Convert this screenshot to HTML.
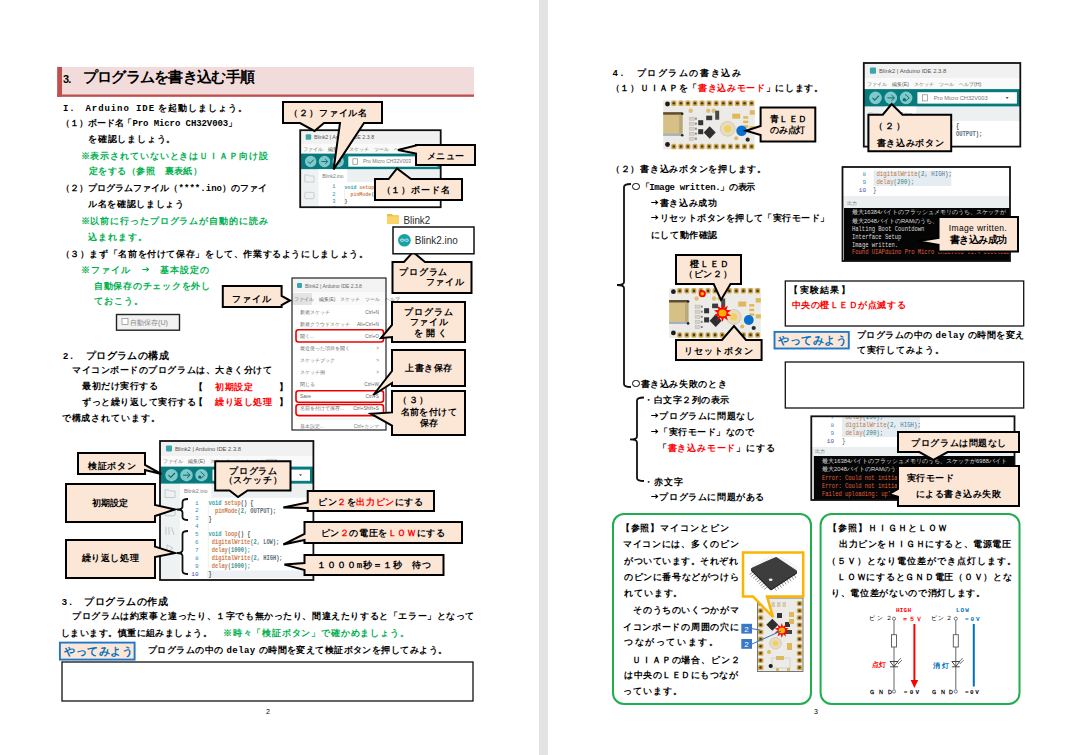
<!DOCTYPE html>
<html><head><meta charset="utf-8"><style>
html,body{margin:0;padding:0;background:#fff;}
body{width:1086px;height:755px;overflow:hidden;position:relative;font-family:"Liberation Sans",sans-serif;}
.gap{position:absolute;left:539px;top:0;width:9px;height:755px;background:#e3e3e3;}
svg.main{position:absolute;left:0;top:0;}
.t{position:absolute;white-space:nowrap;color:#111;}
.ci{display:inline-block;width:0.8em;height:0.8em;border:1.2px solid currentColor;border-radius:50%;box-sizing:border-box;vertical-align:-0.06em;margin:0 0.1em 0 0.05em;}
.ar{display:inline-block;position:static;width:0.8em;height:0.55em;vertical-align:0.1em;margin:0 0.1em;}
</style></head><body>
<div class="gap"></div>
<svg class="main" width="1086" height="755" viewBox="0 0 1086 755" font-family="Liberation Sans">
<rect x="57.2" y="66.9" width="416.8" height="29.9" fill="#f2dcdb" stroke="none" stroke-width="1" rx="0" />
<rect x="57.2" y="66.9" width="4.8" height="29.9" fill="#c0504d" stroke="none" stroke-width="1" rx="0" />
<rect x="57.2" y="94.5" width="416.8" height="2.3" fill="#c0504d" stroke="none" stroke-width="1" rx="0" />
<rect x="62.0" y="662.0" width="411.0" height="39.0" fill="#fff" stroke="#111" stroke-width="1.3" rx="0" />
<rect x="785.3" y="281.0" width="238.4" height="45.0" fill="#fff" stroke="#111" stroke-width="1.3" rx="0" />
<rect x="785.3" y="362.0" width="238.4" height="46.0" fill="#fff" stroke="#111" stroke-width="1.3" rx="0" />
<rect x="59.9" y="642.6" width="74.7" height="17.0" fill="#fce6d6" stroke="#1f77c9" stroke-width="1.9" rx="0" />
<rect x="774.5" y="331.9" width="74.3" height="16.6" fill="#fce6d6" stroke="#1f77c9" stroke-width="1.9" rx="0" />
<rect x="613.0" y="514.0" width="198.0" height="190.0" fill="none" stroke="#1fae4f" stroke-width="2" rx="11" />
<rect x="820.6" y="514.0" width="198.9" height="190.0" fill="none" stroke="#1fae4f" stroke-width="2" rx="11" />
<rect x="116.5" y="314.5" width="63.0" height="15.7" fill="#f2f2f2" stroke="#222" stroke-width="1.4" rx="0" />
<rect x="122.0" y="318.5" width="6.0" height="6.0" fill="#fff" stroke="#888" stroke-width="0.7" rx="0" />
<text x="130.0" y="325.0" font-size="7.2" fill="#888" font-family="Liberation Sans" text-anchor="start" font-weight="normal" >自動保存(U)</text>
<clipPath id="c300"><rect x="300.2" y="130.2" width="140.5" height="77.0"/></clipPath><g clip-path="url(#c300)">
<rect x="300.2" y="130.2" width="140.5" height="77.0" fill="#fff" stroke="none" stroke-width="1" rx="0" />
<rect x="300.2" y="130.2" width="140.5" height="13.7" fill="#f1f1f1" stroke="none" stroke-width="1" rx="0" />
<rect x="305.7" y="134.3" width="5.5" height="5.5" fill="#3aa6aa" stroke="none" stroke-width="1" rx="1" />
<text x="313.9" y="139.2" font-size="5.3122555410691" fill="#555" font-family="Liberation Sans" text-anchor="start" font-weight="normal" >Blink2 | Arduino IDE 2.3.8</text>
<rect x="300.2" y="143.9" width="140.5" height="9.7" fill="#fafafa" stroke="none" stroke-width="1" rx="0" />
<text x="302.9" y="150.6" font-size="4.762711864406779" fill="#666" font-family="Liberation Sans" text-anchor="start" font-weight="normal" >ファイル　編集(E)　スケッチ　ツール　ヘルプ(H)</text>
<rect x="300.2" y="153.6" width="140.5" height="15.8" fill="#077a7e" stroke="none" stroke-width="1" rx="0" />
<circle cx="310.7" cy="161.5" r="5.7" fill="#80c8c9"/>
<circle cx="324.5" cy="161.5" r="5.7" fill="#80c8c9"/>
<circle cx="338.2" cy="161.5" r="5.7" fill="#80c8c9"/>
<path d="M308.0,161.5 l2.0,2.1 l3.8,-4.1" stroke="#0a6a6e" stroke-width="1.0" fill="none"/>
<path d="M321.3,161.5 h6.4 m-2.6,-2.6 l2.6,2.6 l-2.6,2.6" stroke="#0a6a6e" stroke-width="0.9" fill="none"/>
<path d="M337.3,158.3 l3.7,3.2 l-3.7,3.2" stroke="#0a6a6e" stroke-width="0.8" fill="none"/><circle cx="336.6" cy="163.2" r="1.5" fill="#0a6a6e"/>
<rect x="348.3" y="156.4" width="89.3" height="10.3" fill="#fff" stroke="none" stroke-width="1" rx="0" />
<rect x="352.9" y="158.8" width="4.6" height="5.5" fill="none" stroke="#888" stroke-width="0.7" rx="0" />
<text x="362.9" y="163.4" font-size="5.129074315514993" fill="#777" font-family="Liberation Sans" text-anchor="start" font-weight="normal" >Pro Micro CH32V003</text>
<path d="M427.5,160.6 l2.7,0 l-1.4,1.8 z" fill="#555"/>
<rect x="300.2" y="169.4" width="18.3" height="37.8" fill="#eef2f2" stroke="none" stroke-width="1" rx="0" />
<rect x="318.5" y="169.4" width="122.2" height="12.8" fill="#ecf0f0" stroke="none" stroke-width="1" rx="0" />
<rect x="318.5" y="169.4" width="28.8" height="12.8" fill="#fff" stroke="none" stroke-width="1" rx="0" />
<text x="322.2" y="177.6" font-size="4.945893089960887" fill="#777" font-family="Liberation Sans" text-anchor="start" font-weight="normal" >Blink2.ino</text>
<path d="M304.8,174.9 h3.2 l1.1,1.1 h4.9 v6.0 h-9.2 z" fill="none" stroke="#b8c0c0" stroke-width="0.7"/>
<rect x="304.8" y="192.3" width="9.2" height="6.4" fill="none" stroke="#b8c0c0" stroke-width="0.7327249022164276" rx="1" />
<path d="M305.7,208.8 v7.3 M308.4,208.8 v7.3 M310.7,209.2 l2.3,6.9" stroke="#b8c0c0" stroke-width="0.8"/>
<path d="M306.6,225.3 l5.5,3.2 l-5.5,3.2 z" fill="none" stroke="#b8c0c0" stroke-width="0.7"/>
<text x="335.5" y="188.4" font-size="5.495436766623207" fill="#3a8fb0" font-family="Liberation Mono" text-anchor="end" font-weight="normal" >1</text>
<text x="344.6" y="188.6" font-size="5.9" font-family="Liberation Mono" font-weight="bold" textLength="41.3" lengthAdjust="spacingAndGlyphs"><tspan fill="#2fa3a6">void&#160;</tspan><tspan fill="#d0804e">setup</tspan><tspan fill="#555">()&#160;{</tspan></text>
<text x="335.5" y="195.6" font-size="5.495436766623207" fill="#3a8fb0" font-family="Liberation Mono" text-anchor="end" font-weight="normal" >2</text>
<text x="344.6" y="195.9" font-size="5.9" font-family="Liberation Mono" font-weight="bold" textLength="61.9" lengthAdjust="spacingAndGlyphs"><tspan fill="#d0804e">&#160;&#160;pinMode</tspan><tspan fill="#3f9090">(2,&#160;</tspan><tspan fill="#5b6d7a">OUTPUT</tspan><tspan fill="#555">);</tspan></text>
<text x="335.5" y="202.8" font-size="5.495436766623207" fill="#3a8fb0" font-family="Liberation Mono" text-anchor="end" font-weight="normal" >3</text>
<text x="344.6" y="203.1" font-size="5.9" font-family="Liberation Mono" font-weight="bold" textLength="2.9" lengthAdjust="spacingAndGlyphs"><tspan fill="#555">}</tspan></text>
<text x="335.5" y="210.1" font-size="5.495436766623207" fill="#3a8fb0" font-family="Liberation Mono" text-anchor="end" font-weight="normal" >4</text>
<line x1="344.4" y1="188.6" x2="344.4" y2="247.0" stroke="#ddd" stroke-width="0.5"/>
</g>
<rect x="300.2" y="130.2" width="140.5" height="77.0" fill="none" stroke="#111" stroke-width="1.8" rx="0" />
<rect x="292.0" y="278.0" width="94.0" height="152.0" fill="#fff" stroke="none" stroke-width="1" rx="0" />
<rect x="292.0" y="278.0" width="94.0" height="14.0" fill="#f3f3f3" stroke="none" stroke-width="1" rx="0" />
<rect x="297.0" y="283.0" width="5.0" height="5.0" fill="#3aa6aa" stroke="none" stroke-width="1" rx="1" />
<text x="305.0" y="287.6" font-size="5" fill="#666" font-family="Liberation Sans" text-anchor="start" font-weight="normal" >Blink2 | Arduino IDE 2.3.8</text>
<rect x="292.0" y="292.0" width="94.0" height="13.0" fill="#fafafa" stroke="none" stroke-width="1" rx="0" />
<rect x="292.0" y="293.0" width="20.0" height="12.0" fill="#e3e3e3" stroke="none" stroke-width="1" rx="0" />
<text x="294.0" y="301.0" font-size="4.8" fill="#666" font-family="Liberation Sans" text-anchor="start" font-weight="normal" >ファイル　編集(E)　スケッチ　ツール　ヘルプ</text>
<text x="300.0" y="314.0" font-size="4.8" fill="#666" font-family="Liberation Sans" text-anchor="start" font-weight="normal" >新規スケッチ</text>
<text x="379.0" y="314.0" font-size="4.8" fill="#666" font-family="Liberation Sans" text-anchor="end" font-weight="normal" >Ctrl+N</text>
<text x="300.0" y="326.0" font-size="4.8" fill="#666" font-family="Liberation Sans" text-anchor="start" font-weight="normal" >新規クラウドスケッチ</text>
<text x="379.0" y="326.0" font-size="4.8" fill="#666" font-family="Liberation Sans" text-anchor="end" font-weight="normal" >Alt+Ctrl+N</text>
<text x="300.0" y="338.0" font-size="4.8" fill="#666" font-family="Liberation Sans" text-anchor="start" font-weight="normal" >開く...</text>
<text x="379.0" y="338.0" font-size="4.8" fill="#666" font-family="Liberation Sans" text-anchor="end" font-weight="normal" >Ctrl+O</text>
<text x="300.0" y="350.0" font-size="4.8" fill="#666" font-family="Liberation Sans" text-anchor="start" font-weight="normal" >最近使った項目を開く</text>
<text x="379.0" y="350.0" font-size="4.8" fill="#666" font-family="Liberation Sans" text-anchor="end" font-weight="normal" >></text>
<text x="300.0" y="362.0" font-size="4.8" fill="#666" font-family="Liberation Sans" text-anchor="start" font-weight="normal" >スケッチブック</text>
<text x="379.0" y="362.0" font-size="4.8" fill="#666" font-family="Liberation Sans" text-anchor="end" font-weight="normal" >></text>
<text x="300.0" y="374.0" font-size="4.8" fill="#666" font-family="Liberation Sans" text-anchor="start" font-weight="normal" >スケッチ例</text>
<text x="379.0" y="374.0" font-size="4.8" fill="#666" font-family="Liberation Sans" text-anchor="end" font-weight="normal" >></text>
<text x="300.0" y="386.0" font-size="4.8" fill="#666" font-family="Liberation Sans" text-anchor="start" font-weight="normal" >閉じる</text>
<text x="379.0" y="386.0" font-size="4.8" fill="#666" font-family="Liberation Sans" text-anchor="end" font-weight="normal" >Ctrl+W</text>
<text x="300.0" y="398.0" font-size="4.8" fill="#666" font-family="Liberation Sans" text-anchor="start" font-weight="normal" >Save</text>
<text x="379.0" y="398.0" font-size="4.8" fill="#666" font-family="Liberation Sans" text-anchor="end" font-weight="normal" >Ctrl+S</text>
<text x="300.0" y="410.0" font-size="4.8" fill="#666" font-family="Liberation Sans" text-anchor="start" font-weight="normal" >名前を付けて保存...</text>
<text x="379.0" y="410.0" font-size="4.8" fill="#666" font-family="Liberation Sans" text-anchor="end" font-weight="normal" >Ctrl+Shift+S</text>
<line x1="296.0" y1="419.0" x2="382.0" y2="419.0" stroke="#ddd" stroke-width="0.6"/>
<text x="300.0" y="428.0" font-size="4.8" fill="#777" font-family="Liberation Sans" text-anchor="start" font-weight="normal" >基本設定...</text>
<text x="379.0" y="428.0" font-size="4.8" fill="#777" font-family="Liberation Sans" text-anchor="end" font-weight="normal" >Ctrl+カンマ</text>
<rect x="292.0" y="278.0" width="94.0" height="152.0" fill="none" stroke="#222" stroke-width="1.2" rx="0" />
<rect x="296.0" y="329.7" width="87.5" height="12.3" fill="none" stroke="#e00" stroke-width="1.6" rx="2.5" />
<rect x="296.0" y="390.7" width="87.5" height="11.6" fill="none" stroke="#e00" stroke-width="1.6" rx="2.5" />
<rect x="296.0" y="404.5" width="87.5" height="11.1" fill="none" stroke="#e00" stroke-width="1.6" rx="2.5" />
<clipPath id="c160"><rect x="160.0" y="441.0" width="153.4" height="139.0"/></clipPath><g clip-path="url(#c160)">
<rect x="160.0" y="441.0" width="153.4" height="139.0" fill="#fff" stroke="none" stroke-width="1" rx="0" />
<rect x="160.0" y="441.0" width="153.4" height="15.0" fill="#f1f1f1" stroke="none" stroke-width="1" rx="0" />
<rect x="166.0" y="445.5" width="6.0" height="6.0" fill="#3aa6aa" stroke="none" stroke-width="1" rx="1" />
<text x="175.0" y="450.8" font-size="5.799999999999999" fill="#555" font-family="Liberation Sans" text-anchor="start" font-weight="normal" >Blink2 | Arduino IDE 2.3.8</text>
<rect x="160.0" y="456.0" width="153.4" height="10.6" fill="#fafafa" stroke="none" stroke-width="1" rx="0" />
<text x="163.0" y="463.3" font-size="5.199999999999999" fill="#666" font-family="Liberation Sans" text-anchor="start" font-weight="normal" >ファイル　編集(E)　スケッチ　ツール　ヘルプ(H)</text>
<rect x="160.0" y="466.6" width="153.4" height="17.2" fill="#077a7e" stroke="none" stroke-width="1" rx="0" />
<circle cx="171.5" cy="475.2" r="6.2" fill="#80c8c9"/>
<circle cx="186.5" cy="475.2" r="6.2" fill="#80c8c9"/>
<circle cx="201.5" cy="475.2" r="6.2" fill="#80c8c9"/>
<path d="M168.5,475.2 l2.2,2.3 l4.2,-4.5" stroke="#0a6a6e" stroke-width="1.1" fill="none"/>
<path d="M183.0,475.2 h7.0 m-2.8,-2.8 l2.8,2.8 l-2.8,2.8" stroke="#0a6a6e" stroke-width="1.0" fill="none"/>
<path d="M200.5,471.7 l4.0,3.5 l-4.0,3.5" stroke="#0a6a6e" stroke-width="0.9" fill="none"/><circle cx="199.7" cy="477.0" r="1.6" fill="#0a6a6e"/>
<rect x="212.5" y="469.6" width="97.5" height="11.2" fill="#fff" stroke="none" stroke-width="1" rx="0" />
<rect x="217.5" y="472.2" width="5.0" height="6.0" fill="none" stroke="#888" stroke-width="0.7" rx="0" />
<text x="228.5" y="477.2" font-size="5.599999999999999" fill="#777" font-family="Liberation Sans" text-anchor="start" font-weight="normal" >Pro Micro CH32V003</text>
<path d="M299.0,474.2 l3.0,0 l-1.5,2.0 z" fill="#555"/>
<rect x="160.0" y="483.8" width="20.0" height="96.2" fill="#eef2f2" stroke="none" stroke-width="1" rx="0" />
<rect x="180.0" y="483.8" width="133.4" height="14.0" fill="#ecf0f0" stroke="none" stroke-width="1" rx="0" />
<rect x="180.0" y="483.8" width="31.4" height="14.0" fill="#fff" stroke="none" stroke-width="1" rx="0" />
<text x="184.0" y="492.8" font-size="5.3999999999999995" fill="#777" font-family="Liberation Sans" text-anchor="start" font-weight="normal" >Blink2.ino</text>
<path d="M165.0,489.8 h3.5 l1.2,1.2 h5.3 v6.5 h-10.0 z" fill="none" stroke="#b8c0c0" stroke-width="0.8"/>
<rect x="165.0" y="508.8" width="10.0" height="7.0" fill="none" stroke="#b8c0c0" stroke-width="0.7999999999999998" rx="1" />
<path d="M166.0,526.8 v8.0 M169.0,526.8 v8.0 M171.5,527.3 l2.5,7.5" stroke="#b8c0c0" stroke-width="0.9"/>
<path d="M167.0,544.8 l6.0,3.5 l-6.0,3.5 z" fill="none" stroke="#b8c0c0" stroke-width="0.8"/>
<text x="198.5" y="504.5" font-size="5.999999999999998" fill="#3a8fb0" font-family="Liberation Mono" text-anchor="end" font-weight="normal" >1</text>
<text x="208.5" y="504.8" font-size="6.4" font-family="Liberation Mono" font-weight="bold" textLength="45.1" lengthAdjust="spacingAndGlyphs"><tspan fill="#2fa3a6">void&#160;</tspan><tspan fill="#d0804e">setup</tspan><tspan fill="#555">()&#160;{</tspan></text>
<text x="198.5" y="512.4" font-size="5.999999999999998" fill="#3a8fb0" font-family="Liberation Mono" text-anchor="end" font-weight="normal" >2</text>
<text x="208.5" y="512.7" font-size="6.4" font-family="Liberation Mono" font-weight="bold" textLength="67.6" lengthAdjust="spacingAndGlyphs"><tspan fill="#d0804e">&#160;&#160;pinMode</tspan><tspan fill="#3f9090">(2,&#160;</tspan><tspan fill="#5b6d7a">OUTPUT</tspan><tspan fill="#555">);</tspan></text>
<text x="198.5" y="520.3" font-size="5.999999999999998" fill="#3a8fb0" font-family="Liberation Mono" text-anchor="end" font-weight="normal" >3</text>
<text x="208.5" y="520.6" font-size="6.4" font-family="Liberation Mono" font-weight="bold" textLength="3.2" lengthAdjust="spacingAndGlyphs"><tspan fill="#555">}</tspan></text>
<text x="198.5" y="528.2" font-size="5.999999999999998" fill="#3a8fb0" font-family="Liberation Mono" text-anchor="end" font-weight="normal" >4</text>
<text x="198.5" y="536.1" font-size="5.999999999999998" fill="#3a8fb0" font-family="Liberation Mono" text-anchor="end" font-weight="normal" >5</text>
<text x="208.5" y="536.4" font-size="6.4" font-family="Liberation Mono" font-weight="bold" textLength="41.9" lengthAdjust="spacingAndGlyphs"><tspan fill="#2fa3a6">void&#160;</tspan><tspan fill="#d0804e">loop</tspan><tspan fill="#555">()&#160;{</tspan></text>
<text x="198.5" y="544.0" font-size="5.999999999999998" fill="#3a8fb0" font-family="Liberation Mono" text-anchor="end" font-weight="normal" >6</text>
<text x="208.5" y="544.3" font-size="6.4" font-family="Liberation Mono" font-weight="bold" textLength="70.8" lengthAdjust="spacingAndGlyphs"><tspan fill="#d0804e">&#160;digitalWrite</tspan><tspan fill="#3f9090">(2,&#160;</tspan><tspan fill="#5b6d7a">LOW</tspan><tspan fill="#555">);</tspan></text>
<text x="198.5" y="551.9" font-size="5.999999999999998" fill="#3a8fb0" font-family="Liberation Mono" text-anchor="end" font-weight="normal" >7</text>
<text x="208.5" y="552.2" font-size="6.4" font-family="Liberation Mono" font-weight="bold" textLength="41.9" lengthAdjust="spacingAndGlyphs"><tspan fill="#d0804e">&#160;delay</tspan><tspan fill="#3f9090">(1000);</tspan></text>
<text x="198.5" y="559.8" font-size="5.999999999999998" fill="#3a8fb0" font-family="Liberation Mono" text-anchor="end" font-weight="normal" >8</text>
<text x="208.5" y="560.1" font-size="6.4" font-family="Liberation Mono" font-weight="bold" textLength="74.1" lengthAdjust="spacingAndGlyphs"><tspan fill="#d0804e">&#160;digitalWrite</tspan><tspan fill="#3f9090">(2,&#160;</tspan><tspan fill="#5b6d7a">HIGH</tspan><tspan fill="#555">);</tspan></text>
<text x="198.5" y="567.7" font-size="5.999999999999998" fill="#3a8fb0" font-family="Liberation Mono" text-anchor="end" font-weight="normal" >9</text>
<text x="208.5" y="568.0" font-size="6.4" font-family="Liberation Mono" font-weight="bold" textLength="41.9" lengthAdjust="spacingAndGlyphs"><tspan fill="#d0804e">&#160;delay</tspan><tspan fill="#3f9090">(1000);</tspan></text>
<rect x="207.0" y="570.4" width="106.4" height="7.7" fill="#eef1f3" stroke="none" stroke-width="1" rx="0" />
<text x="198.5" y="575.6" font-size="5.999999999999998" fill="#3a4ea0" font-family="Liberation Mono" text-anchor="end" font-weight="normal" >10</text>
<text x="208.5" y="575.9" font-size="6.4" font-family="Liberation Mono" font-weight="bold" textLength="3.2" lengthAdjust="spacingAndGlyphs"><tspan fill="#555">}</tspan></text>
<line x1="208.3" y1="504.8" x2="208.3" y2="568.6" stroke="#ddd" stroke-width="0.5"/>
</g>
<rect x="160.0" y="441.0" width="153.4" height="139.0" fill="none" stroke="#111" stroke-width="1.8" rx="0" />
<clipPath id="c863"><rect x="863.8" y="63.0" width="156.5" height="83.6"/></clipPath><g clip-path="url(#c863)">
<rect x="863.8" y="63.0" width="156.5" height="83.6" fill="#fff" stroke="none" stroke-width="1" rx="0" />
<rect x="863.8" y="63.0" width="156.5" height="15.3" fill="#f1f1f1" stroke="none" stroke-width="1" rx="0" />
<rect x="869.9" y="67.6" width="6.1" height="6.1" fill="#3aa6aa" stroke="none" stroke-width="1" rx="1" />
<text x="879.1" y="73.0" font-size="5.917209908735333" fill="#555" font-family="Liberation Sans" text-anchor="start" font-weight="normal" >Blink2 | Arduino IDE 2.3.8</text>
<rect x="863.8" y="78.3" width="156.5" height="10.8" fill="#fafafa" stroke="none" stroke-width="1" rx="0" />
<text x="866.9" y="85.8" font-size="5.305084745762712" fill="#666" font-family="Liberation Sans" text-anchor="start" font-weight="normal" >ファイル　編集(E)　スケッチ　ツール　ヘルプ(H)</text>
<rect x="863.8" y="89.1" width="156.5" height="17.5" fill="#077a7e" stroke="none" stroke-width="1" rx="0" />
<circle cx="875.5" cy="97.9" r="6.3" fill="#80c8c9"/>
<circle cx="890.8" cy="97.9" r="6.3" fill="#80c8c9"/>
<circle cx="906.1" cy="97.9" r="6.3" fill="#80c8c9"/>
<path d="M872.5,97.9 l2.2,2.3 l4.3,-4.6" stroke="#0a6a6e" stroke-width="1.1" fill="none"/>
<path d="M887.3,97.9 h7.1 m-2.9,-2.9 l2.9,2.9 l-2.9,2.9" stroke="#0a6a6e" stroke-width="1.0" fill="none"/>
<path d="M905.1,94.3 l4.1,3.6 l-4.1,3.6" stroke="#0a6a6e" stroke-width="0.9" fill="none"/><circle cx="904.3" cy="99.7" r="1.6" fill="#0a6a6e"/>
<rect x="917.4" y="92.2" width="99.5" height="11.4" fill="#fff" stroke="none" stroke-width="1" rx="0" />
<rect x="922.5" y="94.8" width="5.1" height="6.1" fill="none" stroke="#888" stroke-width="0.7" rx="0" />
<text x="933.7" y="99.9" font-size="5.713168187744459" fill="#777" font-family="Liberation Sans" text-anchor="start" font-weight="normal" >Pro Micro CH32V003</text>
<path d="M1005.6,96.9 l3.1,0 l-1.5,2.0 z" fill="#555"/>
<rect x="863.8" y="106.7" width="20.4" height="39.9" fill="#eef2f2" stroke="none" stroke-width="1" rx="0" />
<rect x="884.2" y="106.7" width="136.1" height="14.3" fill="#ecf0f0" stroke="none" stroke-width="1" rx="0" />
<rect x="884.2" y="106.7" width="32.0" height="14.3" fill="#fff" stroke="none" stroke-width="1" rx="0" />
<text x="888.3" y="115.8" font-size="5.509126466753586" fill="#777" font-family="Liberation Sans" text-anchor="start" font-weight="normal" >Blink2.ino</text>
<path d="M868.9,112.8 h3.6 l1.2,1.2 h5.4 v6.6 h-10.2 z" fill="none" stroke="#b8c0c0" stroke-width="0.8"/>
<rect x="868.9" y="132.2" width="10.2" height="7.1" fill="none" stroke="#b8c0c0" stroke-width="0.8161668839634942" rx="1" />
<path d="M869.9,150.5 v8.2 M873.0,150.5 v8.2 M875.5,151.0 l2.6,7.7" stroke="#b8c0c0" stroke-width="0.9"/>
<path d="M870.9,168.9 l6.1,3.6 l-6.1,3.6 z" fill="none" stroke="#b8c0c0" stroke-width="0.8"/>
<text x="903.1" y="127.8" font-size="6.121251629726206" fill="#3a8fb0" font-family="Liberation Mono" text-anchor="end" font-weight="normal" >1</text>
<text x="913.3" y="128.1" font-size="6.5" font-family="Liberation Mono" font-weight="bold" textLength="46.0" lengthAdjust="spacingAndGlyphs"><tspan fill="#2fa3a6">void&#160;</tspan><tspan fill="#d0804e">setup</tspan><tspan fill="#555">()&#160;{</tspan></text>
<text x="903.1" y="135.8" font-size="6.121251629726206" fill="#3a8fb0" font-family="Liberation Mono" text-anchor="end" font-weight="normal" >2</text>
<text x="913.3" y="136.1" font-size="6.5" font-family="Liberation Mono" font-weight="bold" textLength="69.0" lengthAdjust="spacingAndGlyphs"><tspan fill="#d0804e">&#160;&#160;pinMode</tspan><tspan fill="#3f9090">(2,&#160;</tspan><tspan fill="#5b6d7a">OUTPUT</tspan><tspan fill="#555">);</tspan></text>
<text x="903.1" y="143.9" font-size="6.121251629726206" fill="#3a8fb0" font-family="Liberation Mono" text-anchor="end" font-weight="normal" >3</text>
<text x="913.3" y="144.2" font-size="6.5" font-family="Liberation Mono" font-weight="bold" textLength="3.3" lengthAdjust="spacingAndGlyphs"><tspan fill="#555">}</tspan></text>
<line x1="913.1" y1="128.1" x2="913.1" y2="193.1" stroke="#ddd" stroke-width="0.5"/>
</g>
<rect x="863.8" y="63.0" width="156.5" height="83.6" fill="none" stroke="#111" stroke-width="1.8" rx="0" />
<clipPath id="o842"><rect x="842.5" y="167.0" width="167.5" height="94.0"/></clipPath><g clip-path="url(#o842)">
<rect x="842.5" y="167.0" width="167.5" height="94.0" fill="#fff" stroke="none" stroke-width="1" rx="0" />
<rect x="873.6" y="170.6" width="77.8" height="15.4" fill="#e6edf2" stroke="none" stroke-width="1" rx="0" />
<text x="866.0" y="175.7" font-size="6" fill="#3a8fb0" font-family="Liberation Mono" text-anchor="end" font-weight="normal" >8</text>
<text x="873.0" y="175.9" font-size="6.6" font-family="Liberation Mono" textLength="78.9" lengthAdjust="spacingAndGlyphs"><tspan fill="#c5763c">&#160;digitalWrite</tspan><tspan fill="#357a7c">(2,&#160;</tspan><tspan fill="#4e7e9a">HIGH</tspan><tspan fill="#555">);</tspan></text>
<text x="866.0" y="184.0" font-size="6" fill="#3a8fb0" font-family="Liberation Mono" text-anchor="end" font-weight="normal" >9</text>
<text x="873.0" y="184.2" font-size="6.6" font-family="Liberation Mono" textLength="41.2" lengthAdjust="spacingAndGlyphs"><tspan fill="#c5763c">&#160;delay</tspan><tspan fill="#357a7c">(200);</tspan></text>
<text x="866.0" y="192.0" font-size="6" fill="#3a4ea0" font-family="Liberation Mono" text-anchor="end" font-weight="normal" >10</text>
<text x="873.0" y="192.2" font-size="6.6" font-family="Liberation Mono" textLength="3.4" lengthAdjust="spacingAndGlyphs"><tspan fill="#555">}</tspan></text>
<rect x="842.5" y="196.0" width="167.5" height="12.0" fill="#eceff0" stroke="none" stroke-width="1" rx="0" />
<text x="846.5" y="204.5" font-size="5" fill="#777" font-family="Liberation Sans" text-anchor="start" font-weight="normal" >出力</text>
<rect x="844.0" y="208.0" width="166.0" height="53.0" fill="#050505" stroke="none" stroke-width="1" rx="0" />
<text x="852.0" y="214.1" font-size="5.8" fill="#ddd" font-family="Liberation Sans" text-anchor="start" font-weight="normal" >最大16384バイトのフラッシュメモリのうち、スケッチが</text>
<text x="852.0" y="222.5" font-size="5.8" fill="#ddd" font-family="Liberation Sans" text-anchor="start" font-weight="normal" >最大2048バイトのRAMのうち、グローバル変数が</text>
<text x="852.0" y="230.6" font-size="6.4" fill="#ddd" font-family="Liberation Mono" font-weight="normal" textLength="72.4" lengthAdjust="spacingAndGlyphs">Halting Boot Countdown</text>
<text x="852.0" y="238.5" font-size="6.4" fill="#ddd" font-family="Liberation Mono" font-weight="normal" textLength="49.4" lengthAdjust="spacingAndGlyphs">Interface Setup</text>
<text x="852.0" y="246.6" font-size="6.4" fill="#ddd" font-family="Liberation Mono" font-weight="normal" textLength="46.1" lengthAdjust="spacingAndGlyphs">Image written.</text>
<text x="852.0" y="254.4" font-size="6.4" fill="#e0603c" font-family="Liberation Mono" font-weight="normal" textLength="164.5" lengthAdjust="spacingAndGlyphs">Found UIAPduino Pro Micro CH32V003 v1.4 bootloader</text>
</g>
<rect x="842.5" y="167.0" width="167.5" height="94.0" fill="none" stroke="#111" stroke-width="1.8" rx="0" />
<clipPath id="o811"><rect x="811.3" y="416.3" width="203.2" height="83.7"/></clipPath><g clip-path="url(#o811)">
<rect x="811.3" y="416.3" width="203.2" height="83.7" fill="#fff" stroke="none" stroke-width="1" rx="0" />
<rect x="842.0" y="414.0" width="78.0" height="23.0" fill="#e6edf2" stroke="none" stroke-width="1" rx="0" />
<text x="834.0" y="419.0" font-size="6" fill="#3a8fb0" font-family="Liberation Mono" text-anchor="end" font-weight="normal" >7</text>
<text x="842.0" y="419.2" font-size="6.6" font-family="Liberation Mono" textLength="41.2" lengthAdjust="spacingAndGlyphs"><tspan fill="#c5763c">&#160;delay</tspan><tspan fill="#357a7c">(200);</tspan></text>
<text x="834.0" y="427.0" font-size="6" fill="#3a8fb0" font-family="Liberation Mono" text-anchor="end" font-weight="normal" >8</text>
<text x="842.0" y="427.2" font-size="6.6" font-family="Liberation Mono" textLength="78.9" lengthAdjust="spacingAndGlyphs"><tspan fill="#c5763c">&#160;digitalWrite</tspan><tspan fill="#357a7c">(2,&#160;</tspan><tspan fill="#4e7e9a">HIGH</tspan><tspan fill="#555">);</tspan></text>
<text x="834.0" y="435.0" font-size="6" fill="#3a8fb0" font-family="Liberation Mono" text-anchor="end" font-weight="normal" >9</text>
<text x="842.0" y="435.2" font-size="6.6" font-family="Liberation Mono" textLength="41.2" lengthAdjust="spacingAndGlyphs"><tspan fill="#c5763c">&#160;delay</tspan><tspan fill="#357a7c">(200);</tspan></text>
<text x="834.0" y="443.0" font-size="6" fill="#3a4ea0" font-family="Liberation Mono" text-anchor="end" font-weight="normal" >10</text>
<text x="842.0" y="443.2" font-size="6.6" font-family="Liberation Mono" textLength="3.4" lengthAdjust="spacingAndGlyphs"><tspan fill="#555">}</tspan></text>
<rect x="811.3" y="447.0" width="203.2" height="9.0" fill="#eceff0" stroke="none" stroke-width="1" rx="0" />
<text x="815.3" y="452.5" font-size="5" fill="#777" font-family="Liberation Sans" text-anchor="start" font-weight="normal" >出力</text>
<rect x="813.8" y="456.0" width="200.7" height="44.0" fill="#050505" stroke="none" stroke-width="1" rx="0" />
<text x="822.0" y="462.7" font-size="5.8" fill="#ddd" font-family="Liberation Sans" text-anchor="start" font-weight="normal" >最大16384バイトのフラッシュメモリのうち、スケッチが6988バイト</text>
<text x="822.0" y="470.8" font-size="5.8" fill="#ddd" font-family="Liberation Sans" text-anchor="start" font-weight="normal" >最大2048バイトのRAMのうち、グローバル変数が</text>
<text x="822.0" y="479.8" font-size="6.4" fill="#e0603c" font-family="Liberation Mono" font-weight="normal" textLength="88.8" lengthAdjust="spacingAndGlyphs">Error: Could not initialize</text>
<text x="822.0" y="487.7" font-size="6.4" fill="#e0603c" font-family="Liberation Mono" font-weight="normal" textLength="88.8" lengthAdjust="spacingAndGlyphs">Error: Could not initialize</text>
<text x="822.0" y="495.7" font-size="6.4" fill="#e0603c" font-family="Liberation Mono" font-weight="normal" textLength="108.6" lengthAdjust="spacingAndGlyphs">Failed uploading: uploading error</text>
</g>
<rect x="811.3" y="416.3" width="203.2" height="83.7" fill="none" stroke="#111" stroke-width="1.8" rx="0" />
<rect x="663.2" y="100.2" width="91.6" height="49.3" fill="#ecebe7" stroke="none" stroke-width="1" rx="0" />
<rect x="671.3" y="100.5" width="5.0" height="5.5" rx="1.6" fill="#cfa548"/>
<circle cx="673.8" cy="103.2" r="1.3" fill="#4a3b1c"/>
<rect x="671.3" y="143.8" width="5.0" height="5.5" rx="1.6" fill="#cfa548"/>
<circle cx="673.8" cy="146.5" r="1.3" fill="#4a3b1c"/>
<rect x="678.4" y="100.5" width="5.0" height="5.5" rx="1.6" fill="#cfa548"/>
<circle cx="680.9" cy="103.2" r="1.3" fill="#4a3b1c"/>
<rect x="678.4" y="143.8" width="5.0" height="5.5" rx="1.6" fill="#cfa548"/>
<circle cx="680.9" cy="146.5" r="1.3" fill="#4a3b1c"/>
<rect x="685.4" y="100.5" width="5.0" height="5.5" rx="1.6" fill="#cfa548"/>
<circle cx="687.9" cy="103.2" r="1.3" fill="#4a3b1c"/>
<rect x="685.4" y="143.8" width="5.0" height="5.5" rx="1.6" fill="#cfa548"/>
<circle cx="687.9" cy="146.5" r="1.3" fill="#4a3b1c"/>
<rect x="692.5" y="100.5" width="5.0" height="5.5" rx="1.6" fill="#cfa548"/>
<circle cx="695.0" cy="103.2" r="1.3" fill="#4a3b1c"/>
<rect x="692.5" y="143.8" width="5.0" height="5.5" rx="1.6" fill="#cfa548"/>
<circle cx="695.0" cy="146.5" r="1.3" fill="#4a3b1c"/>
<rect x="699.6" y="100.5" width="5.0" height="5.5" rx="1.6" fill="#cfa548"/>
<circle cx="702.1" cy="103.2" r="1.3" fill="#4a3b1c"/>
<rect x="699.6" y="143.8" width="5.0" height="5.5" rx="1.6" fill="#cfa548"/>
<circle cx="702.1" cy="146.5" r="1.3" fill="#4a3b1c"/>
<rect x="706.6" y="100.5" width="5.0" height="5.5" rx="1.6" fill="#cfa548"/>
<circle cx="709.1" cy="103.2" r="1.3" fill="#4a3b1c"/>
<rect x="706.6" y="143.8" width="5.0" height="5.5" rx="1.6" fill="#cfa548"/>
<circle cx="709.1" cy="146.5" r="1.3" fill="#4a3b1c"/>
<rect x="713.7" y="100.5" width="5.0" height="5.5" rx="1.6" fill="#cfa548"/>
<circle cx="716.2" cy="103.2" r="1.3" fill="#4a3b1c"/>
<rect x="713.7" y="143.8" width="5.0" height="5.5" rx="1.6" fill="#cfa548"/>
<circle cx="716.2" cy="146.5" r="1.3" fill="#4a3b1c"/>
<rect x="720.8" y="100.5" width="5.0" height="5.5" rx="1.6" fill="#cfa548"/>
<circle cx="723.3" cy="103.2" r="1.3" fill="#4a3b1c"/>
<rect x="720.8" y="143.8" width="5.0" height="5.5" rx="1.6" fill="#cfa548"/>
<circle cx="723.3" cy="146.5" r="1.3" fill="#4a3b1c"/>
<rect x="727.9" y="100.5" width="5.0" height="5.5" rx="1.6" fill="#cfa548"/>
<circle cx="730.4" cy="103.2" r="1.3" fill="#4a3b1c"/>
<rect x="727.9" y="143.8" width="5.0" height="5.5" rx="1.6" fill="#cfa548"/>
<circle cx="730.4" cy="146.5" r="1.3" fill="#4a3b1c"/>
<rect x="734.9" y="100.5" width="5.0" height="5.5" rx="1.6" fill="#cfa548"/>
<circle cx="737.4" cy="103.2" r="1.3" fill="#4a3b1c"/>
<rect x="734.9" y="143.8" width="5.0" height="5.5" rx="1.6" fill="#cfa548"/>
<circle cx="737.4" cy="146.5" r="1.3" fill="#4a3b1c"/>
<rect x="742.0" y="100.5" width="5.0" height="5.5" rx="1.6" fill="#cfa548"/>
<circle cx="744.5" cy="103.2" r="1.3" fill="#4a3b1c"/>
<rect x="742.0" y="143.8" width="5.0" height="5.5" rx="1.6" fill="#cfa548"/>
<circle cx="744.5" cy="146.5" r="1.3" fill="#4a3b1c"/>
<rect x="749.1" y="100.5" width="5.0" height="5.5" rx="1.6" fill="#cfa548"/>
<circle cx="751.6" cy="103.2" r="1.3" fill="#4a3b1c"/>
<rect x="749.1" y="143.8" width="5.0" height="5.5" rx="1.6" fill="#cfa548"/>
<circle cx="751.6" cy="146.5" r="1.3" fill="#4a3b1c"/>
<circle cx="667.5" cy="104.0" r="2.4" fill="#1c1c1c"/>
<circle cx="667.5" cy="144.5" r="2.4" fill="#1c1c1c"/>
<rect x="663.2" y="112.2" width="19.0" height="23.5" fill="#d6c085" stroke="none" stroke-width="1" rx="0" />
<rect x="663.2" y="112.2" width="19.0" height="2.5" fill="#5e4e32" stroke="none" stroke-width="1" rx="0" />
<rect x="663.2" y="133.7" width="19.0" height="2.0" fill="#9fb0c8" stroke="none" stroke-width="1" rx="0" />
<rect x="679.2" y="114.7" width="3.5" height="19.0" fill="#b8a778" stroke="none" stroke-width="1" rx="0" />
<circle cx="682.2" cy="113.7" r="1.3" fill="#222"/>
<circle cx="682.2" cy="135.2" r="1.3" fill="#222"/>
<rect x="689.2" y="117.2" width="5.0" height="3.0" fill="#d5d2cc" stroke="#b9b2a6" stroke-width="0.5" rx="0" />
<rect x="695.2" y="117.7" width="1.5" height="2.0" fill="#777" stroke="none" stroke-width="1" rx="0" />
<rect x="689.2" y="122.2" width="5.0" height="3.0" fill="#d5d2cc" stroke="#b9b2a6" stroke-width="0.5" rx="0" />
<rect x="695.2" y="122.7" width="1.5" height="2.0" fill="#777" stroke="none" stroke-width="1" rx="0" />
<rect x="689.2" y="127.2" width="5.0" height="3.0" fill="#d5d2cc" stroke="#b9b2a6" stroke-width="0.5" rx="0" />
<rect x="695.2" y="127.7" width="1.5" height="2.0" fill="#777" stroke="none" stroke-width="1" rx="0" />
<rect x="689.2" y="132.2" width="5.0" height="3.0" fill="#d5d2cc" stroke="#b9b2a6" stroke-width="0.5" rx="0" />
<rect x="695.2" y="132.7" width="1.5" height="2.0" fill="#777" stroke="none" stroke-width="1" rx="0" />
<rect x="689.2" y="137.2" width="5.0" height="3.0" fill="#d5d2cc" stroke="#b9b2a6" stroke-width="0.5" rx="0" />
<rect x="695.2" y="137.7" width="1.5" height="2.0" fill="#777" stroke="none" stroke-width="1" rx="0" />
<circle cx="690.7" cy="110.7" r="2.2" fill="#e0c070"/>
<circle cx="708.2" cy="110.7" r="2.2" fill="#e0c070"/>
<circle cx="713.7" cy="110.7" r="2.2" fill="#e0c070"/>
<rect x="698.2" y="120.2" width="5.0" height="5.0" fill="#333" stroke="none" stroke-width="1" rx="0" />
<rect x="698.2" y="129.2" width="5.0" height="5.0" fill="#333" stroke="none" stroke-width="1" rx="0" />
<rect x="706.2" y="115.7" width="6.0" height="4.5" fill="#3a3a3a" stroke="none" stroke-width="1" rx="0" />
<polygon points="709.7,126.2 715.7,132.5 709.7,138.8 703.7,132.5" fill="#2e2e2e"/>
<rect x="715.2" y="110.7" width="4.0" height="9.0" fill="#4a4a4a" stroke="none" stroke-width="1" rx="0" />
<circle cx="727.7" cy="128.8" r="7.4" fill="#e6dcc4" stroke="#d2c4a2" stroke-width="0.8"/>
<circle cx="727.7" cy="128.8" r="3.6" fill="#f0d060"/>
<rect x="732.2" y="113.7" width="8.0" height="5.0" fill="#dfb85a" stroke="none" stroke-width="1" rx="0" />
<rect x="743.2" y="116.2" width="5.0" height="2.5" fill="#dfb85a" stroke="none" stroke-width="1" rx="0" />
<rect x="743.2" y="120.7" width="5.0" height="2.5" fill="#dfb85a" stroke="none" stroke-width="1" rx="0" />
<rect x="743.2" y="125.2" width="5.0" height="2.5" fill="#dfb85a" stroke="none" stroke-width="1" rx="0" />
<rect x="749.7" y="110.2" width="5.1" height="4.5" fill="#dfb85a" stroke="none" stroke-width="1" rx="0" />
<rect x="749.7" y="126.2" width="5.1" height="4.0" fill="#dfb85a" stroke="none" stroke-width="1" rx="0" />
<circle cx="747.7" cy="139.7" r="2.1" fill="#2a2a2a"/>
<circle cx="736.2" cy="138.2" r="2.0" fill="#dfb85a"/>
<circle cx="741.6" cy="130.7" r="5.3" fill="#0b6fce"/>
<rect x="669.1" y="287.8" width="91.7" height="50.2" fill="#ecebe7" stroke="none" stroke-width="1" rx="0" />
<rect x="677.2" y="288.1" width="5.0" height="5.5" rx="1.6" fill="#cfa548"/>
<circle cx="679.7" cy="290.9" r="1.3" fill="#4a3b1c"/>
<rect x="677.2" y="332.2" width="5.0" height="5.5" rx="1.6" fill="#cfa548"/>
<circle cx="679.7" cy="334.9" r="1.3" fill="#4a3b1c"/>
<rect x="684.3" y="288.1" width="5.0" height="5.5" rx="1.6" fill="#cfa548"/>
<circle cx="686.8" cy="290.9" r="1.3" fill="#4a3b1c"/>
<rect x="684.3" y="332.2" width="5.0" height="5.5" rx="1.6" fill="#cfa548"/>
<circle cx="686.8" cy="334.9" r="1.3" fill="#4a3b1c"/>
<rect x="691.4" y="288.1" width="5.0" height="5.5" rx="1.6" fill="#cfa548"/>
<circle cx="693.9" cy="290.9" r="1.3" fill="#4a3b1c"/>
<rect x="691.4" y="332.2" width="5.0" height="5.5" rx="1.6" fill="#cfa548"/>
<circle cx="693.9" cy="334.9" r="1.3" fill="#4a3b1c"/>
<rect x="698.4" y="288.1" width="5.0" height="5.5" rx="1.6" fill="#cfa548"/>
<circle cx="700.9" cy="290.9" r="1.3" fill="#4a3b1c"/>
<rect x="698.4" y="332.2" width="5.0" height="5.5" rx="1.6" fill="#cfa548"/>
<circle cx="700.9" cy="334.9" r="1.3" fill="#4a3b1c"/>
<rect x="705.5" y="288.1" width="5.0" height="5.5" rx="1.6" fill="#cfa548"/>
<circle cx="708.0" cy="290.9" r="1.3" fill="#4a3b1c"/>
<rect x="705.5" y="332.2" width="5.0" height="5.5" rx="1.6" fill="#cfa548"/>
<circle cx="708.0" cy="334.9" r="1.3" fill="#4a3b1c"/>
<rect x="712.6" y="288.1" width="5.0" height="5.5" rx="1.6" fill="#cfa548"/>
<circle cx="715.1" cy="290.9" r="1.3" fill="#4a3b1c"/>
<rect x="712.6" y="332.2" width="5.0" height="5.5" rx="1.6" fill="#cfa548"/>
<circle cx="715.1" cy="334.9" r="1.3" fill="#4a3b1c"/>
<rect x="719.7" y="288.1" width="5.0" height="5.5" rx="1.6" fill="#cfa548"/>
<circle cx="722.2" cy="290.9" r="1.3" fill="#4a3b1c"/>
<rect x="719.7" y="332.2" width="5.0" height="5.5" rx="1.6" fill="#cfa548"/>
<circle cx="722.2" cy="334.9" r="1.3" fill="#4a3b1c"/>
<rect x="726.8" y="288.1" width="5.0" height="5.5" rx="1.6" fill="#cfa548"/>
<circle cx="729.3" cy="290.9" r="1.3" fill="#4a3b1c"/>
<rect x="726.8" y="332.2" width="5.0" height="5.5" rx="1.6" fill="#cfa548"/>
<circle cx="729.3" cy="334.9" r="1.3" fill="#4a3b1c"/>
<rect x="733.8" y="288.1" width="5.0" height="5.5" rx="1.6" fill="#cfa548"/>
<circle cx="736.3" cy="290.9" r="1.3" fill="#4a3b1c"/>
<rect x="733.8" y="332.2" width="5.0" height="5.5" rx="1.6" fill="#cfa548"/>
<circle cx="736.3" cy="334.9" r="1.3" fill="#4a3b1c"/>
<rect x="740.9" y="288.1" width="5.0" height="5.5" rx="1.6" fill="#cfa548"/>
<circle cx="743.4" cy="290.9" r="1.3" fill="#4a3b1c"/>
<rect x="740.9" y="332.2" width="5.0" height="5.5" rx="1.6" fill="#cfa548"/>
<circle cx="743.4" cy="334.9" r="1.3" fill="#4a3b1c"/>
<rect x="748.0" y="288.1" width="5.0" height="5.5" rx="1.6" fill="#cfa548"/>
<circle cx="750.5" cy="290.9" r="1.3" fill="#4a3b1c"/>
<rect x="748.0" y="332.2" width="5.0" height="5.5" rx="1.6" fill="#cfa548"/>
<circle cx="750.5" cy="334.9" r="1.3" fill="#4a3b1c"/>
<rect x="755.1" y="288.1" width="5.0" height="5.5" rx="1.6" fill="#cfa548"/>
<circle cx="757.6" cy="290.9" r="1.3" fill="#4a3b1c"/>
<rect x="755.1" y="332.2" width="5.0" height="5.5" rx="1.6" fill="#cfa548"/>
<circle cx="757.6" cy="334.9" r="1.3" fill="#4a3b1c"/>
<circle cx="673.4" cy="291.7" r="2.4" fill="#1c1c1c"/>
<circle cx="673.4" cy="332.9" r="2.4" fill="#1c1c1c"/>
<rect x="669.1" y="300.0" width="19.0" height="23.9" fill="#d6c085" stroke="none" stroke-width="1" rx="0" />
<rect x="669.1" y="300.0" width="19.0" height="2.5" fill="#5e4e32" stroke="none" stroke-width="1" rx="0" />
<rect x="669.1" y="321.9" width="19.0" height="2.0" fill="#9fb0c8" stroke="none" stroke-width="1" rx="0" />
<rect x="685.1" y="302.6" width="3.5" height="19.3" fill="#b8a778" stroke="none" stroke-width="1" rx="0" />
<circle cx="688.1" cy="301.5" r="1.3" fill="#222"/>
<circle cx="688.1" cy="323.4" r="1.3" fill="#222"/>
<rect x="695.1" y="305.1" width="5.0" height="3.1" fill="#d5d2cc" stroke="#b9b2a6" stroke-width="0.5" rx="0" />
<rect x="701.1" y="305.6" width="1.5" height="2.0" fill="#777" stroke="none" stroke-width="1" rx="0" />
<rect x="695.1" y="310.2" width="5.0" height="3.1" fill="#d5d2cc" stroke="#b9b2a6" stroke-width="0.5" rx="0" />
<rect x="701.1" y="310.7" width="1.5" height="2.0" fill="#777" stroke="none" stroke-width="1" rx="0" />
<rect x="695.1" y="315.3" width="5.0" height="3.1" fill="#d5d2cc" stroke="#b9b2a6" stroke-width="0.5" rx="0" />
<rect x="701.1" y="315.8" width="1.5" height="2.0" fill="#777" stroke="none" stroke-width="1" rx="0" />
<rect x="695.1" y="320.4" width="5.0" height="3.1" fill="#d5d2cc" stroke="#b9b2a6" stroke-width="0.5" rx="0" />
<rect x="701.1" y="320.9" width="1.5" height="2.0" fill="#777" stroke="none" stroke-width="1" rx="0" />
<rect x="695.1" y="325.5" width="5.0" height="3.1" fill="#d5d2cc" stroke="#b9b2a6" stroke-width="0.5" rx="0" />
<rect x="701.1" y="326.0" width="1.5" height="2.0" fill="#777" stroke="none" stroke-width="1" rx="0" />
<circle cx="696.6" cy="298.5" r="2.2" fill="#e0c070"/>
<circle cx="714.1" cy="298.5" r="2.2" fill="#e0c070"/>
<circle cx="719.7" cy="298.5" r="2.2" fill="#e0c070"/>
<rect x="704.1" y="308.2" width="5.0" height="5.1" fill="#333" stroke="none" stroke-width="1" rx="0" />
<rect x="704.1" y="317.3" width="5.0" height="5.1" fill="#333" stroke="none" stroke-width="1" rx="0" />
<rect x="712.1" y="303.6" width="6.0" height="4.6" fill="#3a3a3a" stroke="none" stroke-width="1" rx="0" />
<polygon points="715.7,314.3 721.7,320.7 715.7,327.1 709.6,320.7" fill="#2e2e2e"/>
<rect x="721.2" y="298.5" width="4.0" height="9.2" fill="#4a4a4a" stroke="none" stroke-width="1" rx="0" />
<circle cx="733.7" cy="316.9" r="7.4" fill="#e6dcc4" stroke="#d2c4a2" stroke-width="0.8"/>
<circle cx="733.7" cy="316.9" r="3.6" fill="#f0d060"/>
<rect x="738.2" y="301.5" width="8.0" height="5.1" fill="#dfb85a" stroke="none" stroke-width="1" rx="0" />
<rect x="749.2" y="304.1" width="5.0" height="2.5" fill="#dfb85a" stroke="none" stroke-width="1" rx="0" />
<rect x="749.2" y="308.7" width="5.0" height="2.5" fill="#dfb85a" stroke="none" stroke-width="1" rx="0" />
<rect x="749.2" y="313.3" width="5.0" height="2.5" fill="#dfb85a" stroke="none" stroke-width="1" rx="0" />
<rect x="755.7" y="298.0" width="5.1" height="4.6" fill="#dfb85a" stroke="none" stroke-width="1" rx="0" />
<rect x="755.7" y="314.3" width="5.1" height="4.1" fill="#dfb85a" stroke="none" stroke-width="1" rx="0" />
<circle cx="753.7" cy="328.0" r="2.1" fill="#2a2a2a"/>
<circle cx="742.2" cy="326.5" r="2.0" fill="#dfb85a"/>
<circle cx="748.8" cy="320.0" r="4.9" fill="#0b6fce"/>
<circle cx="702.3" cy="293.7" r="3.5" fill="#f00"/>
<circle cx="702.3" cy="293.7" r="1.8" fill="#ffc000"/>
<polygon points="722.5,304.0 724.0,308.3 727.8,305.7 726.5,310.1 731.1,310.2 727.4,313.0 731.1,315.8 726.5,315.9 727.8,320.3 724.0,317.7 722.5,322.0 721.0,317.7 717.2,320.3 718.5,315.9 713.9,315.8 717.6,313.0 713.9,310.2 718.5,310.1 717.2,305.7 721.0,308.3" fill="#f00"/>
<ellipse cx="722.5" cy="313.0" rx="4.0" ry="3.6" fill="#ffb000"/>
<rect x="757.4" y="598.0" width="45.6" height="73.4" fill="#ecebe7" stroke="#555" stroke-width="0.8" rx="0" />
<rect x="757.9" y="601.1" width="5.5" height="5.0" rx="1.6" fill="#cfa548"/>
<circle cx="760.6" cy="603.6" r="1.3" fill="#4a3b1c"/>
<rect x="796.8" y="601.1" width="5.5" height="5.0" rx="1.6" fill="#cfa548"/>
<circle cx="799.5" cy="603.6" r="1.3" fill="#4a3b1c"/>
<rect x="757.9" y="608.2" width="5.5" height="5.0" rx="1.6" fill="#cfa548"/>
<circle cx="760.6" cy="610.7" r="1.3" fill="#4a3b1c"/>
<rect x="796.8" y="608.2" width="5.5" height="5.0" rx="1.6" fill="#cfa548"/>
<circle cx="799.5" cy="610.7" r="1.3" fill="#4a3b1c"/>
<rect x="757.9" y="615.3" width="5.5" height="5.0" rx="1.6" fill="#cfa548"/>
<circle cx="760.6" cy="617.8" r="1.3" fill="#4a3b1c"/>
<rect x="796.8" y="615.3" width="5.5" height="5.0" rx="1.6" fill="#cfa548"/>
<circle cx="799.5" cy="617.8" r="1.3" fill="#4a3b1c"/>
<rect x="757.9" y="622.4" width="5.5" height="5.0" rx="1.6" fill="#cfa548"/>
<circle cx="760.6" cy="624.9" r="1.3" fill="#4a3b1c"/>
<rect x="796.8" y="622.4" width="5.5" height="5.0" rx="1.6" fill="#cfa548"/>
<circle cx="799.5" cy="624.9" r="1.3" fill="#4a3b1c"/>
<rect x="757.9" y="629.5" width="5.5" height="5.0" rx="1.6" fill="#cfa548"/>
<circle cx="760.6" cy="632.0" r="1.3" fill="#4a3b1c"/>
<rect x="796.8" y="629.5" width="5.5" height="5.0" rx="1.6" fill="#cfa548"/>
<circle cx="799.5" cy="632.0" r="1.3" fill="#4a3b1c"/>
<rect x="757.9" y="636.6" width="5.5" height="5.0" rx="1.6" fill="#cfa548"/>
<circle cx="760.6" cy="639.1" r="1.3" fill="#4a3b1c"/>
<rect x="796.8" y="636.6" width="5.5" height="5.0" rx="1.6" fill="#cfa548"/>
<circle cx="799.5" cy="639.1" r="1.3" fill="#4a3b1c"/>
<rect x="757.9" y="643.7" width="5.5" height="5.0" rx="1.6" fill="#cfa548"/>
<circle cx="760.6" cy="646.2" r="1.3" fill="#4a3b1c"/>
<rect x="796.8" y="643.7" width="5.5" height="5.0" rx="1.6" fill="#cfa548"/>
<circle cx="799.5" cy="646.2" r="1.3" fill="#4a3b1c"/>
<rect x="757.9" y="650.8" width="5.5" height="5.0" rx="1.6" fill="#cfa548"/>
<circle cx="760.6" cy="653.3" r="1.3" fill="#4a3b1c"/>
<rect x="796.8" y="650.8" width="5.5" height="5.0" rx="1.6" fill="#cfa548"/>
<circle cx="799.5" cy="653.3" r="1.3" fill="#4a3b1c"/>
<rect x="757.9" y="657.9" width="5.5" height="5.0" rx="1.6" fill="#cfa548"/>
<circle cx="760.6" cy="660.4" r="1.3" fill="#4a3b1c"/>
<rect x="796.8" y="657.9" width="5.5" height="5.0" rx="1.6" fill="#cfa548"/>
<circle cx="799.5" cy="660.4" r="1.3" fill="#4a3b1c"/>
<rect x="757.9" y="665.0" width="5.5" height="5.0" rx="1.6" fill="#cfa548"/>
<circle cx="760.6" cy="667.5" r="1.3" fill="#4a3b1c"/>
<rect x="796.8" y="665.0" width="5.5" height="5.0" rx="1.6" fill="#cfa548"/>
<circle cx="799.5" cy="667.5" r="1.3" fill="#4a3b1c"/>
<rect x="766.0" y="602.0" width="3.5" height="5.0" fill="#d5cbb0" stroke="none" stroke-width="1" rx="0" />
<rect x="771.5" y="602.0" width="3.5" height="5.0" fill="#d5cbb0" stroke="none" stroke-width="1" rx="0" />
<rect x="777.0" y="602.0" width="3.5" height="5.0" fill="#d5cbb0" stroke="none" stroke-width="1" rx="0" />
<rect x="782.5" y="602.0" width="3.5" height="5.0" fill="#d5cbb0" stroke="none" stroke-width="1" rx="0" />
<rect x="777.0" y="613.0" width="5.0" height="5.0" fill="#333" stroke="none" stroke-width="1" rx="0" />
<rect x="785.0" y="622.0" width="5.0" height="5.0" fill="#333" stroke="none" stroke-width="1" rx="0" />
<polygon points="772.3,618.7 778.3,624.7 772.3,630.7 766.3,624.7" fill="#2e2e2e"/>
<rect x="785.0" y="630.0" width="7.0" height="4.0" fill="#444" stroke="none" stroke-width="1" rx="0" />
<circle cx="775.5" cy="643.3" r="5.8" fill="#e6dcc4" stroke="#d2c4a2" stroke-width="0.8"/>
<circle cx="775.5" cy="643.3" r="2.8" fill="#f0d060"/>
<rect x="787.0" y="643.0" width="5.0" height="7.0" fill="#dfb85a" stroke="none" stroke-width="1" rx="0" />
<rect x="789.0" y="612.0" width="5.0" height="5.0" fill="#dfb85a" stroke="none" stroke-width="1" rx="0" />
<rect x="789.0" y="619.0" width="5.0" height="5.0" fill="#dfb85a" stroke="none" stroke-width="1" rx="0" />
<circle cx="769" cy="652" r="2" fill="#dfb85a"/>
<rect x="776.0" y="656.0" width="8.0" height="4.0" fill="#dfb85a" stroke="none" stroke-width="1" rx="0" />
<rect x="772.0" y="658.0" width="18.0" height="10.0" fill="none" stroke="#bbb" stroke-width="0.5" rx="0" />
<circle cx="770.7" cy="666" r="2.1" fill="#1c1c1c"/>
<rect x="776.0" y="668.0" width="3.0" height="3.0" fill="#dfb85a" stroke="none" stroke-width="1" rx="0" />
<rect x="787.0" y="668.0" width="3.0" height="3.0" fill="#dfb85a" stroke="none" stroke-width="1" rx="0" />
<polygon points="781.8,623.1 783.0,626.7 786.1,624.5 785.1,628.1 788.8,628.2 785.8,630.5 788.8,632.8 785.1,632.9 786.1,636.5 783.0,634.3 781.8,637.9 780.6,634.3 777.5,636.5 778.5,632.9 774.8,632.8 777.8,630.5 774.8,628.2 778.5,628.1 777.5,624.5 780.6,626.7" fill="#f00"/>
<ellipse cx="781.8" cy="630.5" rx="3.3" ry="3.0" fill="#ffb000"/>
<path d="M743.0,552.4 L803.2,552.4 L803.2,596.4 L767.0,596.4 L773.0,617.0 L752.9,596.4 L743.0,596.4 Z" fill="#fff" stroke="#fbb400" stroke-width="2.5" stroke-linejoin="miter"/>
<line x1="754.4" y1="570.9" x2="749.4" y2="574.6" stroke="#9a9a9a" stroke-width="1"/>
<line x1="773.5" y1="585.9" x2="776.5" y2="590.9" stroke="#9a9a9a" stroke-width="1"/>
<line x1="754.9" y1="568.0" x2="751.9" y2="564.0" stroke="#ddd" stroke-width="0.8"/>
<line x1="778.0" y1="559.8" x2="782.0" y2="556.8" stroke="#ddd" stroke-width="0.8"/>
<line x1="756.2" y1="572.7" x2="751.2" y2="576.5" stroke="#9a9a9a" stroke-width="1"/>
<line x1="775.9" y1="584.3" x2="778.9" y2="589.3" stroke="#9a9a9a" stroke-width="1"/>
<line x1="757.2" y1="566.9" x2="754.2" y2="562.9" stroke="#ddd" stroke-width="0.8"/>
<line x1="779.9" y1="561.1" x2="783.9" y2="558.1" stroke="#ddd" stroke-width="0.8"/>
<line x1="758.0" y1="574.5" x2="753.0" y2="578.3" stroke="#9a9a9a" stroke-width="1"/>
<line x1="778.4" y1="582.7" x2="781.4" y2="587.7" stroke="#9a9a9a" stroke-width="1"/>
<line x1="759.5" y1="565.9" x2="756.5" y2="561.9" stroke="#ddd" stroke-width="0.8"/>
<line x1="781.9" y1="562.4" x2="785.9" y2="559.4" stroke="#ddd" stroke-width="0.8"/>
<line x1="759.9" y1="576.4" x2="754.9" y2="580.2" stroke="#9a9a9a" stroke-width="1"/>
<line x1="780.8" y1="581.1" x2="783.8" y2="586.1" stroke="#9a9a9a" stroke-width="1"/>
<line x1="761.9" y1="564.8" x2="758.9" y2="560.8" stroke="#ddd" stroke-width="0.8"/>
<line x1="783.8" y1="563.7" x2="787.8" y2="560.7" stroke="#ddd" stroke-width="0.8"/>
<line x1="761.8" y1="578.2" x2="756.8" y2="582.0" stroke="#9a9a9a" stroke-width="1"/>
<line x1="783.2" y1="579.5" x2="786.2" y2="584.5" stroke="#9a9a9a" stroke-width="1"/>
<line x1="764.2" y1="563.8" x2="761.2" y2="559.8" stroke="#ddd" stroke-width="0.8"/>
<line x1="785.8" y1="565.0" x2="789.8" y2="562.0" stroke="#ddd" stroke-width="0.8"/>
<line x1="763.6" y1="580.1" x2="758.6" y2="583.9" stroke="#9a9a9a" stroke-width="1"/>
<line x1="785.7" y1="577.9" x2="788.7" y2="582.9" stroke="#9a9a9a" stroke-width="1"/>
<line x1="766.6" y1="562.7" x2="763.6" y2="558.7" stroke="#ddd" stroke-width="0.8"/>
<line x1="787.7" y1="566.3" x2="791.7" y2="563.3" stroke="#ddd" stroke-width="0.8"/>
<line x1="765.5" y1="582.0" x2="760.5" y2="585.8" stroke="#9a9a9a" stroke-width="1"/>
<line x1="788.1" y1="576.3" x2="791.1" y2="581.3" stroke="#9a9a9a" stroke-width="1"/>
<line x1="769.0" y1="561.6" x2="766.0" y2="557.6" stroke="#ddd" stroke-width="0.8"/>
<line x1="789.6" y1="567.6" x2="793.6" y2="564.6" stroke="#ddd" stroke-width="0.8"/>
<line x1="767.3" y1="583.8" x2="762.3" y2="587.6" stroke="#9a9a9a" stroke-width="1"/>
<line x1="790.6" y1="574.7" x2="793.6" y2="579.7" stroke="#9a9a9a" stroke-width="1"/>
<line x1="771.3" y1="560.6" x2="768.3" y2="556.6" stroke="#ddd" stroke-width="0.8"/>
<line x1="791.6" y1="568.9" x2="795.6" y2="565.9" stroke="#ddd" stroke-width="0.8"/>
<line x1="769.1" y1="585.6" x2="764.1" y2="589.4" stroke="#9a9a9a" stroke-width="1"/>
<line x1="793.0" y1="573.1" x2="796.0" y2="578.1" stroke="#9a9a9a" stroke-width="1"/>
<line x1="773.6" y1="559.5" x2="770.6" y2="555.5" stroke="#ddd" stroke-width="0.8"/>
<line x1="793.5" y1="570.2" x2="797.5" y2="567.2" stroke="#ddd" stroke-width="0.8"/>
<polygon points="776.0,558.5 795.5,571.5 771.0,587.5 752.5,569.0" fill="#222" stroke="#222" stroke-width="3" stroke-linejoin="round" transform="translate(0 1.2)"/>
<polygon points="776.0,558.5 795.5,571.5 771.0,587.5 752.5,569.0" fill="#3d3d3d" stroke="#3d3d3d" stroke-width="3" stroke-linejoin="round"/>
<ellipse cx="770.7" cy="579.8" rx="1.9" ry="1.3" fill="#eee"/>
<line x1="752" y1="628.7" x2="760" y2="630" stroke="#2f6fbf" stroke-width="1"/>
<line x1="752" y1="644" x2="781" y2="631" stroke="#2f6fbf" stroke-width="1"/>
<rect x="741.3" y="623.8" width="10.7" height="9.8" fill="#3b78c8" stroke="none" stroke-width="1" rx="0" />
<rect x="741.3" y="639.0" width="10.7" height="9.8" fill="#3b78c8" stroke="none" stroke-width="1" rx="0" />
<text x="746.6" y="631.8" font-size="8" fill="#fff" font-family="Liberation Sans" text-anchor="middle" font-weight="normal" >2</text>
<text x="746.6" y="647.0" font-size="8" fill="#fff" font-family="Liberation Sans" text-anchor="middle" font-weight="normal" >2</text>
<path d="M387,214 h4.5 l1.5,1.3 h6 v8.4 h-12 z" fill="#f2bd3c"/>
<rect x="387" y="216.3" width="12" height="7.4" fill="#f9d468"/>
<text x="403.5" y="223.6" font-size="10.2" fill="#2a2a2a" font-family="Liberation Sans" textLength="26.7" lengthAdjust="spacingAndGlyphs">Blink2</text>
<path d="M283.0,102.0 L382.0,102.0 L382.0,123.0 L364.0,123.0 L333.6,169.4 L340.0,123.0 L324.0,123.0 L314.5,131.0 L300.0,123.0 L283.0,123.0 Z" fill="#fce6d6" stroke="#000" stroke-width="2" stroke-linejoin="miter"/>
<path d="M416.0,145.0 L475.0,145.0 L475.0,165.0 L416.0,165.0 L416.0,153.6 L398.0,150.0 L416.0,145.5 Z" fill="#fce6d6" stroke="#000" stroke-width="2" stroke-linejoin="miter"/>
<path d="M375.0,179.0 L388.6,179.0 L397.0,168.4 L411.0,179.0 L462.0,179.0 L462.0,200.0 L375.0,200.0 Z" fill="#fce6d6" stroke="#000" stroke-width="2" stroke-linejoin="miter"/>
<path d="M392.5,262.0 L404.0,262.0 L413.0,252.0 L425.0,262.0 L471.5,262.0 L471.5,293.0 L392.5,293.0 Z" fill="#fce6d6" stroke="#000" stroke-width="2" stroke-linejoin="miter"/>
<rect x="393.0" y="227.0" width="81.0" height="26.8" fill="#fff" stroke="#111" stroke-width="1.5" rx="0" />
<circle cx="404.4" cy="240.2" r="6.3" fill="#17a2a6"/>
<path d="M404.4,240.2 c-1.2,-1.6 -4,-1.6 -4,0 c0,1.6 2.8,1.6 4,0 c1.2,-1.6 4,-1.6 4,0 c0,1.6 -2.8,1.6 -4,0 z" stroke="#d8f0f0" stroke-width="0.9" fill="none"/>
<text x="414.8" y="244.3" font-size="10.5" fill="#2a2a2a" font-family="Liberation Sans" textLength="43" lengthAdjust="spacingAndGlyphs">Blink2.ino</text>
<path d="M222.8,286.0 L281.6,286.0 L281.6,296.0 L290.0,300.5 L281.6,305.0 L281.6,307.0 L222.8,307.0 Z" fill="#fce6d6" stroke="#000" stroke-width="2" stroke-linejoin="miter"/>
<path d="M392.0,302.0 L465.0,302.0 L465.0,342.0 L392.0,342.0 L392.0,337.0 L381.0,338.0 L392.0,325.0 Z" fill="#fce6d6" stroke="#000" stroke-width="2" stroke-linejoin="miter"/>
<path d="M392.0,350.0 L465.0,350.0 L465.0,386.0 L392.0,386.0 L392.0,383.0 L373.4,395.0 L392.0,371.0 Z" fill="#fce6d6" stroke="#000" stroke-width="2" stroke-linejoin="miter"/>
<path d="M392.0,391.0 L465.0,391.0 L465.0,435.0 L392.0,435.0 L392.0,425.7 L370.8,413.7 L392.0,412.4 Z" fill="#fce6d6" stroke="#000" stroke-width="2" stroke-linejoin="miter"/>
<path d="M78.0,453.0 L145.0,453.0 L145.0,465.0 L161.3,474.0 L145.0,470.0 L145.0,474.0 L78.0,474.0 Z" fill="#fce6d6" stroke="#000" stroke-width="2" stroke-linejoin="miter"/>
<path d="M215.2,461.3 L290.5,461.3 L290.5,490.4 L247.6,490.4 L238.0,497.0 L229.5,490.4 L215.2,490.4 Z" fill="#fce6d6" stroke="#000" stroke-width="2" stroke-linejoin="miter"/>
<path d="M66.0,484.0 L155.0,484.0 L155.0,505.0 L175.0,509.5 L155.0,516.0 L155.0,522.0 L66.0,522.0 Z" fill="#fce6d6" stroke="#000" stroke-width="2" stroke-linejoin="miter"/>
<path d="M66.0,540.0 L155.0,540.0 L155.0,546.6 L175.0,553.0 L155.0,557.0 L155.0,578.0 L66.0,578.0 Z" fill="#fce6d6" stroke="#000" stroke-width="2" stroke-linejoin="miter"/>
<path d="M307.7,491.0 L434.0,491.0 L434.0,511.0 L307.7,511.0 L307.7,508.0 L283.3,507.4 L307.7,502.5 Z" fill="#fce6d6" stroke="#000" stroke-width="2" stroke-linejoin="miter"/>
<path d="M304.5,522.0 L462.0,522.0 L462.0,543.0 L304.5,543.0 L304.5,540.0 L283.3,544.5 L304.5,534.0 Z" fill="#fce6d6" stroke="#000" stroke-width="2" stroke-linejoin="miter"/>
<path d="M304.5,555.0 L443.5,555.0 L443.5,575.0 L304.5,575.0 L304.5,570.0 L284.4,564.6 L304.5,563.0 Z" fill="#fce6d6" stroke="#000" stroke-width="2" stroke-linejoin="miter"/>
<path d="M188.0,499.0 Q182.5,499.0 182.5,502.0 L182.5,506.5 Q182.5,509.5 177.0,509.5 Q182.5,509.5 182.5,512.5 L182.5,517.0 Q182.5,520.0 188.0,520.0" stroke="#111" stroke-width="1.8" fill="none"/>
<path d="M188.0,531.0 Q182.5,531.0 182.5,534.0 L182.5,550.0 Q182.5,553.0 177.0,553.0 Q182.5,553.0 182.5,556.0 L182.5,571.0 Q182.5,574.0 188.0,574.0" stroke="#111" stroke-width="1.8" fill="none"/>
<path d="M760.6,107.5 L815.3,107.5 L815.3,141.4 L760.6,141.4 L760.6,135.0 L746.0,130.7 L760.6,126.0 Z" fill="#fce6d6" stroke="#000" stroke-width="2" stroke-linejoin="miter"/>
<path d="M868.4,114.7 L882.8,114.7 L891.6,104.0 L902.5,114.7 L951.2,114.7 L951.2,151.2 L868.4,151.2 Z" fill="#fce6d6" stroke="#000" stroke-width="2" stroke-linejoin="miter"/>
<path d="M938.5,217.0 L1018.0,217.0 L1018.0,251.5 L938.5,251.5 L938.5,244.9 L917.2,241.3 L938.5,237.8 Z" fill="#fce6d6" stroke="#000" stroke-width="2" stroke-linejoin="miter"/>
<path d="M676.0,255.0 L741.0,255.0 L741.0,284.0 L730.5,284.0 L721.0,299.9 L713.7,284.0 L676.0,284.0 Z" fill="#fce6d6" stroke="#000" stroke-width="2" stroke-linejoin="miter"/>
<path d="M676.0,340.0 L722.0,340.0 L734.0,326.0 L746.0,340.0 L761.6,340.0 L761.6,360.0 L676.0,360.0 Z" fill="#fce6d6" stroke="#000" stroke-width="2" stroke-linejoin="miter"/>
<path d="M898.0,432.0 L1019.0,432.0 L1019.0,452.0 L947.6,452.0 L933.5,459.8 L919.3,452.0 L898.0,452.0 Z" fill="#fce6d6" stroke="#000" stroke-width="2" stroke-linejoin="miter"/>
<path d="M898.0,466.0 L1019.0,466.0 L1019.0,506.0 L898.0,506.0 L898.0,496.8 L888.9,494.2 L898.0,489.0 Z" fill="#fce6d6" stroke="#000" stroke-width="2" stroke-linejoin="miter"/>
<path d="M631.0,184.0 Q624.0,184.0 624.0,187.0 L624.0,282.0 Q624.0,285.0 617.0,285.0 Q624.0,285.0 624.0,288.0 L624.0,384.0 Q624.0,387.0 631.0,387.0" stroke="#111" stroke-width="1.8" fill="none"/>
<path d="M644.0,397.5 Q637.0,397.5 637.0,400.5 L637.0,436.4 Q637.0,439.4 630.0,439.4 Q637.0,439.4 637.0,442.4 L637.0,478.0 Q637.0,481.0 644.0,481.0" stroke="#111" stroke-width="1.8" fill="none"/>
<line x1="894.0" y1="620.5" x2="894.0" y2="689.5" stroke="#555" stroke-width="0.9"/>
<circle cx="894.0" cy="618.7" r="1.6" fill="#fff" stroke="#555" stroke-width="0.8"/>
<circle cx="894.0" cy="691.5" r="1.6" fill="#fff" stroke="#555" stroke-width="0.8"/>
<rect x="891.5" y="634.7" width="5.0" height="12.3" fill="#fff" stroke="#555" stroke-width="0.9" rx="0" />
<path d="M890.0,661.5 h8 l-4,5 z M890.0,666.8 h8" fill="none" stroke="#333" stroke-width="0.9"/>
<path d="M897.0,662 l4,-4 M898.0,664 l4,-4" stroke="#333" stroke-width="0.7"/>
<line x1="955.8" y1="620.5" x2="955.8" y2="689.5" stroke="#555" stroke-width="0.9"/>
<circle cx="955.8" cy="618.7" r="1.6" fill="#fff" stroke="#555" stroke-width="0.8"/>
<circle cx="955.8" cy="691.5" r="1.6" fill="#fff" stroke="#555" stroke-width="0.8"/>
<rect x="953.3" y="634.7" width="5.0" height="12.3" fill="#fff" stroke="#555" stroke-width="0.9" rx="0" />
<path d="M951.8,661.5 h8 l-4,5 z M951.8,666.8 h8" fill="none" stroke="#333" stroke-width="0.9"/>
<path d="M958.8,662 l4,-4 M959.8,664 l4,-4" stroke="#333" stroke-width="0.7"/>
<line x1="914.4" y1="624" x2="914.4" y2="681" stroke="#f00" stroke-width="2"/>
<path d="M910.6,680 L918.2,680 L914.4,688 z" fill="#f00"/>
<line x1="973.8" y1="624" x2="973.8" y2="686.5" stroke="#0070c0" stroke-width="2"/>
</svg>
<div class="t" style="left:63.0px;top:71.6px;font-size:11px;line-height:15.4px;font-weight:bold;font-family:'Liberation Sans',sans-serif;letter-spacing:-0.80px"><span style="color:#000">3.</span></div>
<div class="t" style="left:82.6px;top:66.0px;font-size:15px;line-height:21.0px;font-weight:bold;font-family:'Liberation Sans',sans-serif;letter-spacing:-0.69px"><span style="color:#000">プログラムを書き込む手順</span></div>
<div class="t" style="left:63.0px;top:102.1px;font-size:9px;line-height:12.6px;font-weight:bold;font-family:'Liberation Sans',sans-serif;letter-spacing:0.91px"><span style="color:#000"><span style="font-family:'Liberation Mono',monospace">I.</span>　<span style="font-family:'Liberation Mono',monospace">Arduino IDE</span> を起動しましょう。</span></div>
<div class="t" style="left:61.0px;top:117.0px;font-size:9px;line-height:12.6px;font-weight:bold;font-family:'Liberation Sans',sans-serif;letter-spacing:-0.08px"><span style="color:#000">（１）ボード名「<span style="font-family:'Liberation Mono',monospace">Pro Micro CH32V003</span>」</span></div>
<div class="t" style="left:88.0px;top:132.5px;font-size:9px;line-height:12.6px;font-weight:bold;font-family:'Liberation Sans',sans-serif;letter-spacing:0.81px"><span style="color:#000">を確認しましょう。</span></div>
<div class="t" style="left:80.5px;top:149.6px;font-size:9px;line-height:12.6px;font-weight:bold;font-family:'Liberation Sans',sans-serif;letter-spacing:0.90px"><span style="color:#00b050">※表示されていないときはＵＩＡＰ向け設</span></div>
<div class="t" style="left:89.0px;top:165.0px;font-size:9px;line-height:12.6px;font-weight:bold;font-family:'Liberation Sans',sans-serif;letter-spacing:0.45px"><span style="color:#00b050">定をする（参照　裏表紙）</span></div>
<div class="t" style="left:61.0px;top:182.0px;font-size:9px;line-height:12.6px;font-weight:bold;font-family:'Liberation Sans',sans-serif;letter-spacing:0.04px"><span style="color:#000">（２）プログラムファイル（<span style="font-family:'Liberation Mono',monospace">****.ino</span>）のファイ</span></div>
<div class="t" style="left:88.0px;top:198.2px;font-size:9px;line-height:12.6px;font-weight:bold;font-family:'Liberation Sans',sans-serif;letter-spacing:0.67px"><span style="color:#000">ル名を確認しましょう</span></div>
<div class="t" style="left:80.5px;top:214.6px;font-size:9px;line-height:12.6px;font-weight:bold;font-family:'Liberation Sans',sans-serif;letter-spacing:0.90px"><span style="color:#00b050">※以前に行ったプログラムが自動的に読み</span></div>
<div class="t" style="left:88.0px;top:230.7px;font-size:9px;line-height:12.6px;font-weight:bold;font-family:'Liberation Sans',sans-serif;letter-spacing:0.92px"><span style="color:#00b050">込まれます。</span></div>
<div class="t" style="left:60.6px;top:248.0px;font-size:9px;line-height:12.6px;font-weight:bold;font-family:'Liberation Sans',sans-serif;letter-spacing:0.62px"><span style="color:#000">（３）まず「名前を付けて保存」をして、作業するようにしましょう。</span></div>
<div class="t" style="left:81.0px;top:263.9px;font-size:9px;line-height:12.6px;font-weight:bold;font-family:'Liberation Sans',sans-serif;letter-spacing:0.97px"><span style="color:#00b050">※ファイル　<svg class="ar" viewBox="0 0 10 6" preserveAspectRatio="none"><path d="M0.3,3 H9.2 M6.2,0.6 L9.3,3 L6.2,5.4" stroke="currentColor" stroke-width="1.3" fill="none"/></svg>　基本設定の</span></div>
<div class="t" style="left:94.0px;top:279.9px;font-size:9px;line-height:12.6px;font-weight:bold;font-family:'Liberation Sans',sans-serif;letter-spacing:0.73px"><span style="color:#00b050">自動保存のチェックを外し</span></div>
<div class="t" style="left:94.0px;top:295.4px;font-size:9px;line-height:12.6px;font-weight:bold;font-family:'Liberation Sans',sans-serif;letter-spacing:1.00px"><span style="color:#00b050">ておこう。</span></div>
<div class="t" style="left:62.7px;top:348.5px;font-size:9.5px;line-height:13.3px;font-weight:bold;font-family:'Liberation Sans',sans-serif;letter-spacing:0.48px"><span style="color:#000"><span style="font-family:'Liberation Mono',monospace">2.</span>　プログラムの構成</span></div>
<div class="t" style="left:72.0px;top:363.5px;font-size:9px;line-height:12.6px;font-weight:bold;font-family:'Liberation Sans',sans-serif;letter-spacing:0.55px"><span style="color:#000">マイコンボードのプログラムは、大きく分けて</span></div>
<div class="t" style="left:82.0px;top:380.0px;font-size:9px;line-height:12.6px;font-weight:bold;font-family:'Liberation Sans',sans-serif;letter-spacing:0.57px"><span style="color:#000">最初だけ実行する</span></div>
<div class="t" style="left:194.0px;top:380.5px;font-size:9px;line-height:12.6px;font-weight:bold;font-family:'Liberation Sans',sans-serif;letter-spacing:0.00px"><span style="color:#000">【</span></div>
<div class="t" style="left:215.0px;top:380.5px;font-size:9px;line-height:12.6px;font-weight:bold;font-family:'Liberation Sans',sans-serif;letter-spacing:0.53px"><span style="color:#ff0000">初期設定</span></div>
<div class="t" style="left:279.0px;top:380.5px;font-size:9px;line-height:12.6px;font-weight:bold;font-family:'Liberation Sans',sans-serif;letter-spacing:0.00px"><span style="color:#000">】</span></div>
<div class="t" style="left:82.0px;top:395.7px;font-size:9px;line-height:12.6px;font-weight:bold;font-family:'Liberation Sans',sans-serif;letter-spacing:0.55px"><span style="color:#000">ずっと繰り返して実行する</span></div>
<div class="t" style="left:194.0px;top:396.2px;font-size:9px;line-height:12.6px;font-weight:bold;font-family:'Liberation Sans',sans-serif;letter-spacing:0.00px"><span style="color:#000">【</span></div>
<div class="t" style="left:215.0px;top:395.7px;font-size:9px;line-height:12.6px;font-weight:bold;font-family:'Liberation Sans',sans-serif;letter-spacing:0.60px"><span style="color:#ff0000">繰り返し処理</span></div>
<div class="t" style="left:279.0px;top:396.2px;font-size:9px;line-height:12.6px;font-weight:bold;font-family:'Liberation Sans',sans-serif;letter-spacing:0.00px"><span style="color:#000">】</span></div>
<div class="t" style="left:61.7px;top:412.0px;font-size:9px;line-height:12.6px;font-weight:bold;font-family:'Liberation Sans',sans-serif;letter-spacing:0.88px"><span style="color:#000">で構成されています。</span></div>
<div class="t" style="left:61.6px;top:594.5px;font-size:9.5px;line-height:13.3px;font-weight:bold;font-family:'Liberation Sans',sans-serif;letter-spacing:0.49px"><span style="color:#000"><span style="font-family:'Liberation Mono',monospace">3.</span>　プログラムの作成</span></div>
<div class="t" style="left:72.3px;top:610.3px;font-size:9px;line-height:12.6px;font-weight:bold;font-family:'Liberation Sans',sans-serif;letter-spacing:0.59px"><span style="color:#000">プログラムは約束事と違ったり、１字でも無かったり、間違えたりすると「エラー」となって</span></div>
<div class="t" style="left:60.6px;top:626.5px;font-size:9px;line-height:12.6px;font-weight:bold;font-family:'Liberation Sans',sans-serif;letter-spacing:0.49px"><span style="color:#000">しまいます。慎重に組みましょう。</span></div>
<div class="t" style="left:223.0px;top:626.5px;font-size:9px;line-height:12.6px;font-weight:bold;font-family:'Liberation Sans',sans-serif;letter-spacing:0.81px"><span style="color:#00b050">※時々「検証ボタン」で確かめましょう。</span></div>
<div class="t" style="left:148.0px;top:643.8px;font-size:9px;line-height:12.6px;font-weight:bold;font-family:'Liberation Sans',sans-serif;letter-spacing:0.44px"><span style="color:#000">プログラムの中の <span style="font-family:'Liberation Mono',monospace">delay</span> の時間を変えて検証ボタンを押してみよう。</span></div>
<div class="t" style="left:64.0px;top:643.5px;font-size:11px;line-height:15.4px;font-weight:bold;font-family:'Liberation Sans',sans-serif;letter-spacing:0.60px"><span style="color:#0070c0">やってみよう</span></div>
<div class="t" style="left:266.0px;top:706.5px;font-size:7px;line-height:9.8px;font-weight:normal;font-family:'Liberation Sans',sans-serif;letter-spacing:0.00px"><span style="color:#000">2</span></div>
<div class="t" style="left:289.0px;top:107.2px;font-size:9px;line-height:12.6px;font-weight:bold;font-family:'Liberation Sans',sans-serif;letter-spacing:0.91px"><span style="color:#000">（２）ファイル名</span></div>
<div class="t" style="left:426.8px;top:149.5px;font-size:9px;line-height:12.6px;font-weight:bold;font-family:'Liberation Sans',sans-serif;letter-spacing:0.37px"><span style="color:#000">メニュー</span></div>
<div class="t" style="left:381.6px;top:184.1px;font-size:9px;line-height:12.6px;font-weight:bold;font-family:'Liberation Sans',sans-serif;letter-spacing:0.90px"><span style="color:#000">（１）ボード名</span></div>
<div class="t" style="left:232.4px;top:292.6px;font-size:9px;line-height:12.6px;font-weight:bold;font-family:'Liberation Sans',sans-serif;letter-spacing:0.87px"><span style="color:#000">ファイル</span></div>
<div class="t" style="left:399.0px;top:265.8px;font-size:9px;line-height:12.6px;font-weight:bold;font-family:'Liberation Sans',sans-serif;letter-spacing:0.85px"><span style="color:#000">プログラム</span></div>
<div class="t" style="left:425.5px;top:276.0px;font-size:9px;line-height:12.6px;font-weight:bold;font-family:'Liberation Sans',sans-serif;letter-spacing:0.70px"><span style="color:#000">ファイル</span></div>
<div class="t" style="left:404.0px;top:305.5px;font-size:9px;line-height:12.6px;font-weight:bold;font-family:'Liberation Sans',sans-serif;letter-spacing:1.12px"><span style="color:#000">プログラム</span></div>
<div class="t" style="left:409.6px;top:316.0px;font-size:9px;line-height:12.6px;font-weight:bold;font-family:'Liberation Sans',sans-serif;letter-spacing:0.70px"><span style="color:#000">ファイル</span></div>
<div class="t" style="left:414.4px;top:326.9px;font-size:9px;line-height:12.6px;font-weight:bold;font-family:'Liberation Sans',sans-serif;letter-spacing:2.65px"><span style="color:#000">を開く</span></div>
<div class="t" style="left:405.3px;top:362.1px;font-size:9px;line-height:12.6px;font-weight:bold;font-family:'Liberation Sans',sans-serif;letter-spacing:0.55px"><span style="color:#000">上書き保存</span></div>
<div class="t" style="left:398.0px;top:394.0px;font-size:9px;line-height:12.6px;font-weight:bold;font-family:'Liberation Sans',sans-serif;letter-spacing:1.50px"><span style="color:#000">（３）</span></div>
<div class="t" style="left:400.5px;top:405.9px;font-size:9px;line-height:12.6px;font-weight:bold;font-family:'Liberation Sans',sans-serif;letter-spacing:0.44px"><span style="color:#000">名前を付けて</span></div>
<div class="t" style="left:419.9px;top:417.0px;font-size:9px;line-height:12.6px;font-weight:bold;font-family:'Liberation Sans',sans-serif;letter-spacing:-0.30px"><span style="color:#000">保存</span></div>
<div class="t" style="left:88.0px;top:459.5px;font-size:9px;line-height:12.6px;font-weight:bold;font-family:'Liberation Sans',sans-serif;letter-spacing:0.70px"><span style="color:#000">検証ボタン</span></div>
<div class="t" style="left:92.0px;top:497.2px;font-size:9px;line-height:12.6px;font-weight:bold;font-family:'Liberation Sans',sans-serif;letter-spacing:0.13px"><span style="color:#000">初期設定</span></div>
<div class="t" style="left:81.8px;top:552.2px;font-size:9px;line-height:12.6px;font-weight:bold;font-family:'Liberation Sans',sans-serif;letter-spacing:0.56px"><span style="color:#000">繰り返し処理</span></div>
<div class="t" style="left:229.0px;top:464.9px;font-size:9px;line-height:12.6px;font-weight:bold;font-family:'Liberation Sans',sans-serif;letter-spacing:0.80px"><span style="color:#000">プログラム</span></div>
<div class="t" style="left:223.5px;top:474.0px;font-size:9px;line-height:12.6px;font-weight:bold;font-family:'Liberation Sans',sans-serif;letter-spacing:0.94px"><span style="color:#000">（スケッチ）</span></div>
<div class="t" style="left:318.0px;top:495.5px;font-size:9px;line-height:12.6px;font-weight:bold;font-family:'Liberation Sans',sans-serif;letter-spacing:0.60px"><span style="color:#000">ピン</span><span style="color:#ff0000">２</span><span style="color:#000">を</span><span style="color:#ff0000">出力ピン</span><span style="color:#000">にする</span></div>
<div class="t" style="left:320.5px;top:527.4px;font-size:9px;line-height:12.6px;font-weight:bold;font-family:'Liberation Sans',sans-serif;letter-spacing:0.62px"><span style="color:#000">ピン</span><span style="color:#ff0000">２</span><span style="color:#000">の電圧を</span><span style="color:#ff0000">ＬＯＷ</span><span style="color:#000">にする</span></div>
<div class="t" style="left:317.3px;top:559.1px;font-size:9px;line-height:12.6px;font-weight:bold;font-family:'Liberation Sans',sans-serif;letter-spacing:0.85px"><span style="color:#000">１０００<span style="font-family:'Liberation Mono',monospace">m</span>秒＝１秒　待つ</span></div>
<div class="t" style="left:612.4px;top:67.0px;font-size:9px;line-height:12.6px;font-weight:bold;font-family:'Liberation Sans',sans-serif;letter-spacing:1.53px"><span style="color:#000"><span style="font-family:'Liberation Mono',monospace">4.</span>　プログラムの書き込み</span></div>
<div class="t" style="left:610.8px;top:82.0px;font-size:9px;line-height:12.6px;font-weight:bold;font-family:'Liberation Sans',sans-serif;letter-spacing:0.68px"><span style="color:#000">（１）ＵＩＡＰを「</span><span style="color:#ff0000">書き込みモード</span><span style="color:#000">」にします。</span></div>
<div class="t" style="left:610.8px;top:162.6px;font-size:9px;line-height:12.6px;font-weight:bold;font-family:'Liberation Sans',sans-serif;letter-spacing:0.75px"><span style="color:#000">（２）書き込みボタンを押します。</span></div>
<div class="t" style="left:632.0px;top:180.7px;font-size:9px;line-height:12.6px;font-weight:bold;font-family:'Liberation Sans',sans-serif;letter-spacing:-0.32px"><span style="color:#000"><span class="ci"></span>「<span style="font-family:'Liberation Mono',monospace">Image written.</span>」の表示</span></div>
<div class="t" style="left:650.6px;top:196.7px;font-size:9px;line-height:12.6px;font-weight:bold;font-family:'Liberation Sans',sans-serif;letter-spacing:0.65px"><span style="color:#000"><svg class="ar" viewBox="0 0 10 6" preserveAspectRatio="none"><path d="M0.3,3 H9.2 M6.2,0.6 L9.3,3 L6.2,5.4" stroke="currentColor" stroke-width="1.3" fill="none"/></svg>書き込み成功</span></div>
<div class="t" style="left:650.6px;top:212.0px;font-size:9px;line-height:12.6px;font-weight:bold;font-family:'Liberation Sans',sans-serif;letter-spacing:0.44px"><span style="color:#000"><svg class="ar" viewBox="0 0 10 6" preserveAspectRatio="none"><path d="M0.3,3 H9.2 M6.2,0.6 L9.3,3 L6.2,5.4" stroke="currentColor" stroke-width="1.3" fill="none"/></svg>リセットボタンを押して「実行モード」</span></div>
<div class="t" style="left:650.6px;top:228.5px;font-size:9px;line-height:12.6px;font-weight:bold;font-family:'Liberation Sans',sans-serif;letter-spacing:0.65px"><span style="color:#000">にして動作確認</span></div>
<div class="t" style="left:632.0px;top:377.6px;font-size:9px;line-height:12.6px;font-weight:bold;font-family:'Liberation Sans',sans-serif;letter-spacing:0.63px"><span style="color:#000"><span class="ci"></span>書き込み失敗のとき</span></div>
<div class="t" style="left:644.0px;top:393.9px;font-size:9px;line-height:12.6px;font-weight:bold;font-family:'Liberation Sans',sans-serif;letter-spacing:0.50px"><span style="color:#000">・白文字２列の表示</span></div>
<div class="t" style="left:650.5px;top:410.0px;font-size:9px;line-height:12.6px;font-weight:bold;font-family:'Liberation Sans',sans-serif;letter-spacing:0.59px"><span style="color:#000"><svg class="ar" viewBox="0 0 10 6" preserveAspectRatio="none"><path d="M0.3,3 H9.2 M6.2,0.6 L9.3,3 L6.2,5.4" stroke="currentColor" stroke-width="1.3" fill="none"/></svg>プログラムに問題なし</span></div>
<div class="t" style="left:650.5px;top:426.0px;font-size:9px;line-height:12.6px;font-weight:bold;font-family:'Liberation Sans',sans-serif;letter-spacing:0.45px"><span style="color:#000"><svg class="ar" viewBox="0 0 10 6" preserveAspectRatio="none"><path d="M0.3,3 H9.2 M6.2,0.6 L9.3,3 L6.2,5.4" stroke="currentColor" stroke-width="1.3" fill="none"/></svg>「実行モード」なので</span></div>
<div class="t" style="left:657.7px;top:442.0px;font-size:9px;line-height:12.6px;font-weight:bold;font-family:'Liberation Sans',sans-serif;letter-spacing:0.81px"><span style="color:#000">「</span><span style="color:#ff0000">書き込みモード</span><span style="color:#000">」にする</span></div>
<div class="t" style="left:644.0px;top:475.8px;font-size:9px;line-height:12.6px;font-weight:bold;font-family:'Liberation Sans',sans-serif;letter-spacing:0.87px"><span style="color:#000">・赤文字</span></div>
<div class="t" style="left:650.5px;top:490.9px;font-size:9px;line-height:12.6px;font-weight:bold;font-family:'Liberation Sans',sans-serif;letter-spacing:0.59px"><span style="color:#000"><svg class="ar" viewBox="0 0 10 6" preserveAspectRatio="none"><path d="M0.3,3 H9.2 M6.2,0.6 L9.3,3 L6.2,5.4" stroke="currentColor" stroke-width="1.3" fill="none"/></svg>プログラムに問題がある</span></div>
<div class="t" style="left:789.4px;top:283.5px;font-size:9px;line-height:12.6px;font-weight:bold;font-family:'Liberation Sans',sans-serif;letter-spacing:1.24px"><span style="color:#000">【実験結果】</span></div>
<div class="t" style="left:791.5px;top:299.4px;font-size:9px;line-height:12.6px;font-weight:bold;font-family:'Liberation Sans',sans-serif;letter-spacing:0.55px"><span style="color:#ff0000">中央の橙ＬＥＤが点滅する</span></div>
<div class="t" style="left:856.8px;top:328.6px;font-size:9px;line-height:12.6px;font-weight:bold;font-family:'Liberation Sans',sans-serif;letter-spacing:0.46px"><span style="color:#000">プログラムの中の <span style="font-family:'Liberation Mono',monospace">delay</span> の時間を変え</span></div>
<div class="t" style="left:856.8px;top:344.2px;font-size:9px;line-height:12.6px;font-weight:bold;font-family:'Liberation Sans',sans-serif;letter-spacing:0.78px"><span style="color:#000">て実行してみよう。</span></div>
<div class="t" style="left:778.0px;top:333.0px;font-size:11px;line-height:15.4px;font-weight:bold;font-family:'Liberation Sans',sans-serif;letter-spacing:0.60px"><span style="color:#0070c0">やってみよう</span></div>
<div class="t" style="left:620.6px;top:522.3px;font-size:9px;line-height:12.6px;font-weight:bold;font-family:'Liberation Sans',sans-serif;letter-spacing:0.94px"><span style="color:#000">【参照】マイコンとピン</span></div>
<div class="t" style="left:623.0px;top:538.1px;font-size:9px;line-height:12.6px;font-weight:bold;font-family:'Liberation Sans',sans-serif;letter-spacing:0.69px"><span style="color:#000">マイコンには、多くのピン</span></div>
<div class="t" style="left:624.0px;top:554.7px;font-size:9px;line-height:12.6px;font-weight:bold;font-family:'Liberation Sans',sans-serif;letter-spacing:0.51px"><span style="color:#000">がついています。それぞれ</span></div>
<div class="t" style="left:624.0px;top:571.3px;font-size:9px;line-height:12.6px;font-weight:bold;font-family:'Liberation Sans',sans-serif;letter-spacing:0.60px"><span style="color:#000">のピンに番号などがつけら</span></div>
<div class="t" style="left:624.0px;top:587.4px;font-size:9px;line-height:12.6px;font-weight:bold;font-family:'Liberation Sans',sans-serif;letter-spacing:0.88px"><span style="color:#000">れています。</span></div>
<div class="t" style="left:633.4px;top:604.3px;font-size:9px;line-height:12.6px;font-weight:bold;font-family:'Liberation Sans',sans-serif;letter-spacing:0.62px"><span style="color:#000">そのうちのいくつかがマ</span></div>
<div class="t" style="left:623.0px;top:620.8px;font-size:9px;line-height:12.6px;font-weight:bold;font-family:'Liberation Sans',sans-serif;letter-spacing:0.69px"><span style="color:#000">イコンボードの周囲の穴に</span></div>
<div class="t" style="left:624.0px;top:636.4px;font-size:9px;line-height:12.6px;font-weight:bold;font-family:'Liberation Sans',sans-serif;letter-spacing:1.62px"><span style="color:#000">つながっています。</span></div>
<div class="t" style="left:632.4px;top:653.8px;font-size:9px;line-height:12.6px;font-weight:bold;font-family:'Liberation Sans',sans-serif;letter-spacing:0.82px"><span style="color:#000">ＵＩＡＰの場合、ピン２</span></div>
<div class="t" style="left:624.0px;top:669.3px;font-size:9px;line-height:12.6px;font-weight:bold;font-family:'Liberation Sans',sans-serif;letter-spacing:0.51px"><span style="color:#000">は中央のＬＥＤにもつなが</span></div>
<div class="t" style="left:623.0px;top:685.3px;font-size:9px;line-height:12.6px;font-weight:bold;font-family:'Liberation Sans',sans-serif;letter-spacing:1.00px"><span style="color:#000">っています。</span></div>
<div class="t" style="left:828.3px;top:522.3px;font-size:9px;line-height:12.6px;font-weight:bold;font-family:'Liberation Sans',sans-serif;letter-spacing:0.94px"><span style="color:#000">【参照】ＨＩＧＨとＬＯＷ</span></div>
<div class="t" style="left:839.0px;top:538.1px;font-size:9px;line-height:12.6px;font-weight:bold;font-family:'Liberation Sans',sans-serif;letter-spacing:0.59px"><span style="color:#000">出力ピンをＨＩＧＨにすると、電源電圧</span></div>
<div class="t" style="left:827.0px;top:554.7px;font-size:9px;line-height:12.6px;font-weight:bold;font-family:'Liberation Sans',sans-serif;letter-spacing:0.98px"><span style="color:#000">（５Ｖ）となり電位差ができ点灯します。</span></div>
<div class="t" style="left:837.0px;top:570.8px;font-size:9px;line-height:12.6px;font-weight:bold;font-family:'Liberation Sans',sans-serif;letter-spacing:0.76px"><span style="color:#000">ＬＯＷにするとＧＮＤ電圧（０Ｖ）とな</span></div>
<div class="t" style="left:831.0px;top:587.4px;font-size:9px;line-height:12.6px;font-weight:bold;font-family:'Liberation Sans',sans-serif;letter-spacing:0.67px"><span style="color:#000">り、電位差がないので消灯します。</span></div>
<div class="t" style="left:814.0px;top:706.5px;font-size:7px;line-height:9.8px;font-weight:normal;font-family:'Liberation Sans',sans-serif;letter-spacing:0.00px"><span style="color:#000">3</span></div>
<div class="t" style="left:769.7px;top:113.3px;font-size:9px;line-height:12.6px;font-weight:bold;font-family:'Liberation Sans',sans-serif;letter-spacing:0.60px"><span style="color:#000">青ＬＥＤ</span></div>
<div class="t" style="left:769.7px;top:124.0px;font-size:9px;line-height:12.6px;font-weight:bold;font-family:'Liberation Sans',sans-serif;letter-spacing:-0.07px"><span style="color:#000">のみ点灯</span></div>
<div class="t" style="left:873.8px;top:120.4px;font-size:9px;line-height:12.6px;font-weight:bold;font-family:'Liberation Sans',sans-serif;letter-spacing:2.25px"><span style="color:#000">（２）</span></div>
<div class="t" style="left:876.7px;top:136.8px;font-size:9px;line-height:12.6px;font-weight:bold;font-family:'Liberation Sans',sans-serif;letter-spacing:0.68px"><span style="color:#000">書き込みボタン</span></div>
<div class="t" style="left:948.8px;top:223.0px;font-size:8.5px;line-height:11.9px;font-weight:normal;font-family:'Liberation Sans',sans-serif;letter-spacing:0.35px"><span style="color:#000">Image written.</span></div>
<div class="t" style="left:950.0px;top:232.5px;font-size:9.5px;line-height:13.3px;font-weight:bold;font-family:'Liberation Sans',sans-serif;letter-spacing:-0.54px"><span style="color:#000">書き込み成功</span></div>
<div class="t" style="left:689.8px;top:258.4px;font-size:9px;line-height:12.6px;font-weight:bold;font-family:'Liberation Sans',sans-serif;letter-spacing:1.03px"><span style="color:#000">橙ＬＥＤ</span></div>
<div class="t" style="left:683.8px;top:268.2px;font-size:9px;line-height:12.6px;font-weight:bold;font-family:'Liberation Sans',sans-serif;letter-spacing:0.78px"><span style="color:#000">（ピン２）</span></div>
<div class="t" style="left:684.2px;top:344.6px;font-size:9px;line-height:12.6px;font-weight:bold;font-family:'Liberation Sans',sans-serif;letter-spacing:0.97px"><span style="color:#000">リセットボタン</span></div>
<div class="t" style="left:911.2px;top:437.0px;font-size:9px;line-height:12.6px;font-weight:bold;font-family:'Liberation Sans',sans-serif;letter-spacing:0.58px"><span style="color:#000">プログラムは問題なし</span></div>
<div class="t" style="left:907.0px;top:471.9px;font-size:9px;line-height:12.6px;font-weight:bold;font-family:'Liberation Sans',sans-serif;letter-spacing:0.43px"><span style="color:#000">実行モード</span></div>
<div class="t" style="left:915.8px;top:488.2px;font-size:9px;line-height:12.6px;font-weight:bold;font-family:'Liberation Sans',sans-serif;letter-spacing:0.51px"><span style="color:#000">による書き込み失敗</span></div>
<div class="t" style="left:896.0px;top:607.0px;font-size:6px;line-height:8.4px;font-weight:bold;font-family:'Liberation Mono',sans-serif;letter-spacing:0.20px"><span style="color:#ff0000"><span style="font-family:'Liberation Mono',monospace">HIGH</span></span></div>
<div class="t" style="left:868.8px;top:614.2px;font-size:6px;line-height:8.4px;font-weight:normal;font-family:'Liberation Sans',sans-serif;letter-spacing:2.60px"><span style="color:#000">ピン２</span></div>
<div class="t" style="left:902.0px;top:614.7px;font-size:6px;line-height:8.4px;font-weight:bold;font-family:'Liberation Sans',sans-serif;letter-spacing:0.90px"><span style="color:#ff0000">＝５Ｖ</span></div>
<div class="t" style="left:871.8px;top:660.2px;font-size:7px;line-height:9.8px;font-weight:bold;font-family:'Liberation Sans',sans-serif;letter-spacing:0.20px"><span style="color:#ff0000">点灯</span></div>
<div class="t" style="left:868.8px;top:687.5px;font-size:6px;line-height:8.4px;font-weight:bold;font-family:'Liberation Sans',sans-serif;letter-spacing:2.90px"><span style="color:#000">ＧＮＤ</span></div>
<div class="t" style="left:903.8px;top:688.5px;font-size:6px;line-height:8.4px;font-weight:bold;font-family:'Liberation Mono',sans-serif;letter-spacing:2.25px"><span style="color:#000"><span style="font-family:'Liberation Mono',monospace">=0V</span></span></div>
<div class="t" style="left:956.0px;top:607.0px;font-size:6px;line-height:8.4px;font-weight:bold;font-family:'Liberation Mono',sans-serif;letter-spacing:1.00px"><span style="color:#0070c0"><span style="font-family:'Liberation Mono',monospace">LOW</span></span></div>
<div class="t" style="left:930.9px;top:614.2px;font-size:6px;line-height:8.4px;font-weight:normal;font-family:'Liberation Sans',sans-serif;letter-spacing:1.55px"><span style="color:#000">ピン２</span></div>
<div class="t" style="left:965.0px;top:615.7px;font-size:6px;line-height:8.4px;font-weight:bold;font-family:'Liberation Mono',sans-serif;letter-spacing:1.85px"><span style="color:#0070c0"><span style="font-family:'Liberation Mono',monospace">=0V</span></span></div>
<div class="t" style="left:933.3px;top:660.5px;font-size:7px;line-height:9.8px;font-weight:bold;font-family:'Liberation Sans',sans-serif;letter-spacing:2.10px"><span style="color:#0070c0">消灯</span></div>
<div class="t" style="left:931.4px;top:687.5px;font-size:6px;line-height:8.4px;font-weight:bold;font-family:'Liberation Sans',sans-serif;letter-spacing:2.25px"><span style="color:#000">ＧＮＤ</span></div>
<div class="t" style="left:965.0px;top:688.5px;font-size:6px;line-height:8.4px;font-weight:bold;font-family:'Liberation Mono',sans-serif;letter-spacing:1.50px"><span style="color:#000"><span style="font-family:'Liberation Mono',monospace">=0V</span></span></div>
</body></html>
